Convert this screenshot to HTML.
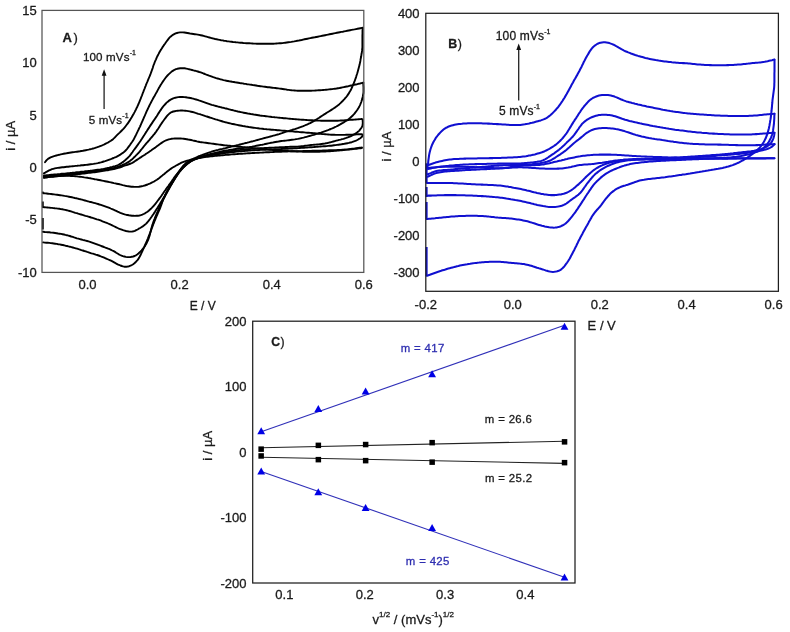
<!DOCTYPE html><html><head><meta charset="utf-8"><title>Cyclic voltammetry figure</title>
<style>html,body{margin:0;padding:0;background:#fff;width:790px;height:632px;overflow:hidden}svg{display:block;will-change:transform}text{font-family:"Liberation Sans", sans-serif;fill:#1a1a1a;stroke:#1a1a1a;stroke-width:0.3px;stroke-linejoin:round}</style></head><body>
<svg width="790" height="632" viewBox="0 0 790 632">
<rect width="790" height="632" fill="#fff"/>
<path d="M45.0 162.2 L45.9 161.0 L46.9 159.9 L48.0 158.9 L49.3 158.1 L50.6 157.4 L52.0 156.9 L53.4 156.4 L54.9 155.9 L56.3 155.5 L57.7 155.1 L59.2 154.8 L60.7 154.4 L62.1 154.1 L63.6 153.8 L65.1 153.5 L66.5 153.3 L68.0 153.0 L69.5 152.7 L71.0 152.5 L72.5 152.3 L74.0 152.1 L75.4 151.9 L76.9 151.7 L78.4 151.5 L79.9 151.3 L81.4 151.0 L82.9 150.8 L84.3 150.5 L85.8 150.2 L87.3 149.9 L88.7 149.6 L90.2 149.2 L91.7 148.9 L93.1 148.5 L94.5 148.1 L96.0 147.6 L97.4 147.2 L98.8 146.7 L100.2 146.1 L101.6 145.6 L103.0 145.0 L104.4 144.4 L105.7 143.7 L107.0 143.0 L108.4 142.3 L109.6 141.5 L110.9 140.7 L112.1 139.9 L113.3 138.9 L114.4 137.9 L115.4 136.8 L116.5 135.7 L117.5 134.7 L118.6 133.6 L119.7 132.6 L120.8 131.5 L121.8 130.5 L122.9 129.4 L123.9 128.3 L124.9 127.2 L125.8 126.0 L126.7 124.8 L127.6 123.6 L128.5 122.4 L129.3 121.1 L130.1 119.9 L130.9 118.6 L131.7 117.3 L132.4 116.0 L133.1 114.7 L133.9 113.4 L134.6 112.1 L135.3 110.7 L136.0 109.4 L136.6 108.0 L137.3 106.7 L137.9 105.3 L138.5 104.0 L139.1 102.6 L139.7 101.2 L140.2 99.8 L140.8 98.4 L141.3 97.0 L141.9 95.6 L142.4 94.2 L142.9 92.8 L143.5 91.4 L144.0 90.0 L144.6 88.6 L145.1 87.2 L145.7 85.8 L146.2 84.4 L146.8 83.0 L147.4 81.6 L147.9 80.3 L148.5 78.9 L149.1 77.5 L149.7 76.1 L150.3 74.7 L150.8 73.3 L151.3 71.9 L151.8 70.5 L152.3 69.1 L152.8 67.7 L153.2 66.2 L153.7 64.8 L154.3 63.4 L154.8 62.0 L155.4 60.6 L156.0 59.3 L156.6 57.9 L157.2 56.5 L157.9 55.2 L158.6 53.9 L159.3 52.5 L160.0 51.2 L160.8 49.9 L161.6 48.7 L162.4 47.4 L163.2 46.2 L164.1 44.9 L165.0 43.7 L165.8 42.5 L166.7 41.3 L167.6 40.1 L168.5 38.9 L169.5 37.7 L170.5 36.7 L171.7 35.7 L172.9 34.8 L174.2 34.1 L175.6 33.4 L177.0 33.0 L178.4 32.6 L179.9 32.4 L181.4 32.4 L182.9 32.4 L184.4 32.5 L185.9 32.7 L187.4 33.0 L188.9 33.3 L190.3 33.6 L191.8 33.8 L193.3 34.0 L194.8 34.2 L196.3 34.4 L197.8 34.6 L199.2 34.9 L200.7 35.2 L202.2 35.5 L203.6 35.9 L205.1 36.3 L206.5 36.7 L207.9 37.1 L209.4 37.5 L210.8 37.9 L212.3 38.3 L213.7 38.6 L215.2 39.0 L216.7 39.3 L218.1 39.6 L219.6 39.9 L221.1 40.2 L222.6 40.4 L224.0 40.7 L225.5 40.9 L227.0 41.2 L228.5 41.4 L230.0 41.6 L231.5 41.8 L233.0 42.0 L234.4 42.1 L235.9 42.3 L237.4 42.4 L238.9 42.6 L240.4 42.7 L241.9 42.8 L243.4 43.0 L244.9 43.1 L246.4 43.2 L247.9 43.2 L249.4 43.3 L250.9 43.4 L252.4 43.5 L253.9 43.6 L255.4 43.6 L256.9 43.7 L258.4 43.7 L259.9 43.8 L261.4 43.8 L262.9 43.8 L264.4 43.8 L265.9 43.8 L267.4 43.8 L268.9 43.8 L270.4 43.7 L271.9 43.7 L273.4 43.7 L274.9 43.6 L276.4 43.5 L277.9 43.4 L279.4 43.3 L280.9 43.2 L282.4 43.1 L283.9 42.9 L285.3 42.7 L286.8 42.5 L288.3 42.3 L289.8 42.1 L291.3 41.9 L292.8 41.6 L294.2 41.4 L295.7 41.1 L297.2 40.8 L298.7 40.6 L300.1 40.3 L301.6 40.0 L303.1 39.6 L304.5 39.3 L306.0 39.0 L307.5 38.7 L308.9 38.4 L310.4 38.1 L311.9 37.8 L313.4 37.5 L314.8 37.3 L316.3 37.0 L317.8 36.7 L319.2 36.4 L320.7 36.1 L322.2 35.8 L323.7 35.5 L325.1 35.2 L326.6 34.9 L328.1 34.6 L329.5 34.3 L331.0 34.0 L332.5 33.7 L333.9 33.4 L335.4 33.1 L336.9 32.8 L338.4 32.5 L339.8 32.2 L341.3 31.9 L342.8 31.7 L344.2 31.4 L345.7 31.1 L347.2 30.8 L348.7 30.5 L350.1 30.2 L351.6 29.9 L353.1 29.6 L354.5 29.4 L356.0 29.1 L357.5 28.8 L359.0 28.5 L360.4 28.2 L361.9 27.9 L362.5 27.8" fill="none" stroke="#000" stroke-width="1.9" stroke-linejoin="round" stroke-linecap="round"/>
<path d="M362.6 27.9 L362.6 29.4 L362.5 30.9 L362.5 32.4 L362.5 33.9 L362.4 35.4 L362.4 36.9 L362.4 38.4 L362.4 39.9 L362.4 41.4 L362.4 42.9 L362.4 44.4 L362.4 45.9 L362.4 47.4 L362.2 48.9 L362.1 50.4 L361.9 51.8 L361.7 53.3 L361.4 54.8 L361.2 56.3 L360.9 57.8 L360.6 59.2 L360.4 60.7 L360.1 62.2 L359.8 63.6 L359.5 65.1 L359.1 66.6 L358.7 68.0 L358.3 69.5 L357.9 70.9 L357.5 72.4 L357.1 73.8 L356.6 75.2 L356.2 76.6 L355.7 78.1 L355.2 79.5 L354.7 80.9 L354.1 82.3 L353.6 83.7 L353.0 85.1 L352.4 86.5 L351.8 87.8 L351.2 89.2 L350.5 90.5 L349.7 91.8 L349.0 93.1 L348.1 94.4 L347.3 95.6 L346.4 96.8 L345.4 97.9 L344.4 99.1 L343.4 100.2 L342.4 101.3 L341.3 102.3 L340.2 103.4 L339.1 104.4 L338.0 105.3 L336.8 106.2 L335.6 107.1 L334.3 108.0 L333.1 108.8 L331.8 109.6 L330.6 110.4 L329.3 111.2 L328.0 112.0 L326.7 112.8 L325.5 113.6 L324.2 114.4 L322.9 115.2 L321.7 116.0 L320.4 116.9 L319.2 117.7 L317.9 118.5 L316.7 119.3 L315.4 120.1 L314.1 120.9 L312.8 121.7 L311.5 122.4 L310.2 123.1 L308.8 123.7 L307.5 124.3 L306.1 124.9 L304.7 125.5 L303.3 126.1 L301.9 126.6 L300.5 127.1 L299.1 127.6 L297.7 128.2 L296.3 128.6 L294.8 129.1 L293.4 129.5 L292.0 130.0 L290.5 130.4 L289.1 130.8 L287.7 131.3 L286.2 131.7 L284.8 132.2 L283.4 132.7 L282.0 133.2 L280.5 133.6 L279.1 134.1 L277.7 134.5 L276.2 134.9 L274.8 135.3 L273.3 135.7 L271.9 136.1 L270.4 136.5 L269.0 136.9 L267.5 137.3 L266.1 137.6 L264.6 138.0 L263.2 138.4 L261.7 138.8 L260.3 139.2 L258.8 139.6 L257.4 140.0 L255.9 140.4 L254.5 140.8 L253.0 141.2 L251.6 141.5 L250.1 141.9 L248.7 142.3 L247.2 142.7 L245.8 143.0 L244.3 143.4 L242.9 143.8 L241.4 144.1 L240.0 144.5 L238.5 144.9 L237.1 145.2 L235.6 145.6 L234.2 146.0 L232.7 146.3 L231.2 146.7 L229.8 147.1 L228.3 147.4 L226.9 147.8 L225.4 148.2 L224.0 148.5 L222.5 148.9 L221.0 149.2 L219.6 149.5 L218.1 149.9 L216.7 150.2 L215.2 150.6 L213.8 151.0 L212.3 151.4 L210.9 151.9 L209.5 152.3 L208.0 152.8 L206.6 153.3 L205.2 153.8 L203.8 154.3 L202.4 154.9 L201.0 155.4 L199.6 156.0 L198.2 156.5 L196.9 157.2 L195.5 157.8 L194.1 158.4 L192.8 159.1 L191.5 159.8 L190.1 160.5 L188.8 161.2 L187.5 162.0 L186.3 162.8 L185.2 163.8 L184.1 164.9 L183.1 166.0 L182.2 167.2 L181.3 168.3 L180.4 169.5 L179.5 170.8 L178.6 172.0 L177.8 173.3 L177.0 174.5 L176.2 175.8 L175.5 177.1 L174.7 178.4 L173.9 179.6 L173.1 180.9 L172.4 182.2 L171.6 183.5 L170.9 184.8 L170.1 186.1 L169.4 187.4 L168.6 188.7 L167.9 190.0 L167.1 191.3 L166.4 192.6 L165.7 194.0 L165.0 195.3 L164.4 196.6 L163.8 198.0 L163.2 199.4 L162.7 200.8 L162.2 202.3 L161.7 203.7 L161.2 205.1 L160.7 206.5 L160.2 207.9 L159.6 209.3 L159.0 210.7 L158.4 212.0 L157.8 213.4 L157.2 214.8 L156.6 216.2 L156.0 217.5 L155.5 218.9 L154.9 220.3 L154.3 221.7 L153.8 223.1 L153.2 224.5 L152.7 225.9 L152.2 227.3 L151.6 228.7 L151.1 230.1 L150.6 231.5 L150.1 232.9 L149.5 234.3 L149.0 235.7 L148.4 237.1 L147.9 238.5 L147.3 239.9 L146.7 241.3 L146.1 242.7 L145.5 244.0 L144.9 245.4 L144.3 246.8 L143.7 248.1 L143.1 249.5 L142.5 250.9 L141.9 252.2 L141.2 253.6 L140.6 255.0 L139.9 256.3 L139.2 257.6 L138.4 258.9 L137.5 260.1 L136.5 261.2 L135.5 262.3 L134.4 263.3 L133.2 264.2 L131.9 265.0 L130.6 265.7 L129.2 266.2 L127.7 266.5 L126.2 266.7 L124.7 266.7 L123.2 266.4 L121.8 266.0 L120.4 265.5 L119.0 264.9 L117.6 264.3 L116.3 263.6 L115.0 262.8 L113.7 262.1 L112.4 261.4 L111.0 260.7 L109.7 260.1 L108.3 259.5 L106.9 258.9 L105.6 258.3 L104.2 257.7 L102.8 257.1 L101.4 256.6 L100.0 256.0 L98.6 255.5 L97.2 255.0 L95.7 254.6 L94.3 254.1 L92.9 253.7 L91.4 253.3 L90.0 252.8 L88.6 252.3 L87.2 251.9 L85.7 251.4 L84.3 251.0 L82.9 250.5 L81.4 250.1 L80.0 249.6 L78.6 249.2 L77.1 248.7 L75.7 248.3 L74.2 247.9 L72.8 247.5 L71.4 247.1 L69.9 246.7 L68.5 246.4 L67.0 246.0 L65.5 245.7 L64.1 245.3 L62.6 245.0 L61.1 244.7 L59.7 244.4 L58.2 244.2 L56.7 243.9 L55.2 243.7 L53.7 243.5 L52.3 243.3 L50.8 243.1 L49.3 242.9 L47.8 242.8 L46.3 242.7 L44.8 242.6 L43.3 242.4 L43.0 242.4" fill="none" stroke="#000" stroke-width="1.9" stroke-linejoin="round" stroke-linecap="round"/>
<path d="M43.9 173.3 L45.2 172.6 L46.5 171.8 L47.8 171.1 L49.1 170.4 L50.5 169.8 L51.9 169.2 L53.3 168.8 L54.8 168.4 L56.2 168.1 L57.7 167.9 L59.2 167.7 L60.7 167.5 L62.2 167.3 L63.7 167.2 L65.2 167.0 L66.7 166.8 L68.2 166.7 L69.6 166.5 L71.1 166.4 L72.6 166.2 L74.1 166.1 L75.6 165.9 L77.1 165.8 L78.6 165.6 L80.1 165.5 L81.6 165.3 L83.1 165.2 L84.6 165.0 L86.1 164.9 L87.6 164.7 L89.0 164.5 L90.5 164.3 L92.0 164.1 L93.5 163.9 L95.0 163.6 L96.5 163.4 L97.9 163.1 L99.4 162.7 L100.8 162.4 L102.3 162.0 L103.7 161.5 L105.1 161.1 L106.6 160.6 L108.0 160.1 L109.4 159.6 L110.8 159.1 L112.2 158.5 L113.6 158.0 L115.0 157.4 L116.4 156.8 L117.7 156.1 L119.0 155.4 L120.3 154.6 L121.5 153.8 L122.8 152.9 L124.0 152.0 L125.1 151.0 L126.1 150.0 L127.1 148.8 L128.0 147.6 L128.9 146.4 L129.8 145.2 L130.6 144.0 L131.5 142.7 L132.4 141.5 L133.2 140.2 L133.9 139.0 L134.6 137.6 L135.3 136.3 L136.0 134.9 L136.6 133.6 L137.3 132.2 L137.9 130.9 L138.6 129.5 L139.2 128.2 L139.9 126.8 L140.5 125.5 L141.1 124.1 L141.7 122.7 L142.3 121.3 L142.9 120.0 L143.5 118.6 L144.1 117.2 L144.7 115.9 L145.3 114.5 L145.9 113.1 L146.5 111.7 L147.1 110.4 L147.8 109.0 L148.4 107.6 L149.1 106.3 L149.7 104.9 L150.4 103.6 L151.1 102.3 L151.8 100.9 L152.5 99.6 L153.2 98.3 L153.9 97.0 L154.7 95.7 L155.4 94.4 L156.1 93.1 L156.9 91.7 L157.6 90.4 L158.3 89.1 L159.0 87.8 L159.8 86.5 L160.5 85.2 L161.3 84.0 L162.1 82.7 L163.0 81.4 L163.8 80.2 L164.7 79.0 L165.6 77.8 L166.5 76.6 L167.5 75.5 L168.6 74.4 L169.7 73.4 L170.8 72.4 L171.9 71.4 L173.2 70.6 L174.5 69.8 L175.9 69.2 L177.3 68.8 L178.7 68.5 L180.2 68.3 L181.7 68.2 L183.2 68.2 L184.7 68.3 L186.2 68.6 L187.7 68.9 L189.1 69.3 L190.6 69.6 L192.0 70.0 L193.5 70.4 L194.9 70.7 L196.4 71.1 L197.8 71.5 L199.3 72.0 L200.7 72.4 L202.1 72.9 L203.5 73.5 L204.9 74.0 L206.3 74.6 L207.7 75.1 L209.1 75.7 L210.5 76.2 L211.9 76.7 L213.3 77.2 L214.7 77.6 L216.2 78.1 L217.6 78.5 L219.1 78.9 L220.5 79.3 L222.0 79.7 L223.4 80.1 L224.9 80.4 L226.3 80.7 L227.8 81.0 L229.3 81.3 L230.8 81.5 L232.2 81.8 L233.7 82.0 L235.2 82.3 L236.7 82.5 L238.2 82.7 L239.7 83.0 L241.1 83.2 L242.6 83.4 L244.1 83.7 L245.6 83.9 L247.1 84.2 L248.5 84.4 L250.0 84.6 L251.5 84.8 L253.0 85.1 L254.5 85.3 L256.0 85.5 L257.4 85.8 L258.9 86.0 L260.4 86.2 L261.9 86.4 L263.4 86.6 L264.9 86.8 L266.4 87.0 L267.8 87.2 L269.3 87.3 L270.8 87.5 L272.3 87.7 L273.8 87.9 L275.3 88.0 L276.8 88.2 L278.3 88.4 L279.8 88.6 L281.2 88.8 L282.7 89.0 L284.2 89.2 L285.7 89.4 L287.2 89.7 L288.7 89.9 L290.1 90.1 L291.6 90.3 L293.1 90.4 L294.6 90.5 L296.1 90.6 L297.6 90.7 L299.1 90.7 L300.6 90.8 L302.1 90.8 L303.6 90.8 L305.1 90.8 L306.6 90.8 L308.1 90.7 L309.6 90.7 L311.1 90.7 L312.6 90.6 L314.1 90.6 L315.6 90.5 L317.1 90.4 L318.6 90.3 L320.1 90.2 L321.6 90.1 L323.1 90.0 L324.6 89.9 L326.1 89.7 L327.6 89.6 L329.1 89.4 L330.6 89.2 L332.1 89.1 L333.5 88.9 L335.0 88.7 L336.5 88.5 L338.0 88.2 L339.5 88.0 L340.9 87.7 L342.4 87.4 L343.9 87.1 L345.4 86.8 L346.8 86.5 L348.3 86.2 L349.7 85.8 L351.2 85.5 L352.7 85.2 L354.1 84.8 L355.6 84.5 L357.1 84.2 L358.5 83.8 L360.0 83.5 L361.4 83.1 L362.9 82.8 L363.3 82.7" fill="none" stroke="#000" stroke-width="1.9" stroke-linejoin="round" stroke-linecap="round"/>
<path d="M363.3 82.8 L363.3 84.3 L363.4 85.8 L363.5 87.3 L363.5 88.8 L363.5 90.3 L363.5 91.8 L363.4 93.3 L363.1 94.7 L362.9 96.2 L362.5 97.7 L362.2 99.1 L361.7 100.6 L361.3 102.0 L360.7 103.4 L360.1 104.8 L359.5 106.1 L358.8 107.5 L358.0 108.7 L357.2 110.0 L356.3 111.2 L355.4 112.4 L354.5 113.6 L353.5 114.7 L352.5 115.8 L351.4 116.8 L350.3 117.8 L349.1 118.8 L347.9 119.7 L346.7 120.5 L345.4 121.3 L344.1 122.1 L342.8 122.9 L341.5 123.6 L340.2 124.4 L338.9 125.1 L337.6 125.8 L336.3 126.5 L334.9 127.1 L333.5 127.8 L332.2 128.4 L330.8 129.0 L329.4 129.5 L328.0 130.1 L326.6 130.6 L325.2 131.1 L323.8 131.6 L322.4 132.1 L320.9 132.6 L319.5 133.0 L318.1 133.5 L316.6 133.9 L315.2 134.3 L313.8 134.8 L312.3 135.2 L310.9 135.6 L309.4 136.0 L308.0 136.4 L306.6 136.8 L305.1 137.2 L303.6 137.6 L302.2 137.9 L300.7 138.3 L299.3 138.6 L297.8 138.9 L296.3 139.1 L294.8 139.4 L293.4 139.6 L291.9 139.8 L290.4 140.0 L288.9 140.2 L287.4 140.4 L285.9 140.6 L284.4 140.7 L282.9 140.9 L281.4 141.0 L280.0 141.2 L278.5 141.5 L277.0 141.7 L275.5 142.0 L274.0 142.3 L272.6 142.6 L271.1 142.8 L269.6 143.1 L268.2 143.4 L266.7 143.7 L265.2 144.0 L263.8 144.4 L262.3 144.7 L260.8 144.9 L259.3 145.2 L257.9 145.5 L256.4 145.8 L254.9 146.1 L253.5 146.4 L252.0 146.7 L250.5 146.9 L249.0 147.2 L247.5 147.4 L246.1 147.6 L244.6 147.8 L243.1 148.0 L241.6 148.2 L240.1 148.4 L238.6 148.6 L237.1 148.8 L235.6 149.0 L234.2 149.2 L232.7 149.5 L231.2 149.7 L229.7 149.9 L228.2 150.2 L226.8 150.4 L225.3 150.7 L223.8 151.0 L222.3 151.3 L220.9 151.6 L219.4 151.9 L217.9 152.3 L216.5 152.6 L215.0 152.9 L213.6 153.3 L212.1 153.6 L210.7 154.0 L209.2 154.4 L207.7 154.8 L206.3 155.1 L204.9 155.5 L203.4 156.0 L202.0 156.4 L200.5 156.8 L199.1 157.3 L197.7 157.8 L196.3 158.4 L195.0 159.0 L193.6 159.7 L192.3 160.4 L191.0 161.2 L189.8 162.0 L188.5 162.9 L187.3 163.8 L186.2 164.7 L185.1 165.8 L184.0 166.8 L183.0 167.9 L182.0 169.0 L181.0 170.2 L180.1 171.3 L179.2 172.5 L178.3 173.7 L177.4 174.9 L176.6 176.2 L175.7 177.4 L174.9 178.7 L174.1 180.0 L173.4 181.3 L172.6 182.6 L171.8 183.9 L171.1 185.1 L170.3 186.4 L169.6 187.8 L168.9 189.1 L168.1 190.4 L167.4 191.7 L166.7 193.0 L166.0 194.3 L165.3 195.6 L164.6 197.0 L163.9 198.3 L163.2 199.6 L162.5 201.0 L161.9 202.3 L161.2 203.7 L160.6 205.0 L159.9 206.4 L159.3 207.7 L158.7 209.1 L158.1 210.5 L157.5 211.9 L156.9 213.2 L156.3 214.6 L155.7 216.0 L155.1 217.4 L154.6 218.8 L154.0 220.2 L153.5 221.6 L153.0 223.0 L152.6 224.4 L152.1 225.9 L151.7 227.3 L151.3 228.8 L151.0 230.2 L150.6 231.7 L150.2 233.1 L149.9 234.6 L149.5 236.0 L149.0 237.4 L148.5 238.9 L148.0 240.3 L147.3 241.6 L146.7 243.0 L146.0 244.3 L145.2 245.6 L144.4 246.8 L143.5 248.0 L142.6 249.2 L141.6 250.4 L140.6 251.5 L139.5 252.5 L138.4 253.5 L137.2 254.5 L136.0 255.3 L134.6 256.0 L133.2 256.5 L131.8 256.8 L130.3 257.1 L128.8 257.1 L127.3 257.1 L125.8 256.9 L124.3 256.5 L122.9 256.1 L121.5 255.6 L120.1 255.0 L118.8 254.3 L117.5 253.5 L116.2 252.7 L115.0 251.9 L113.7 251.2 L112.3 250.5 L111.0 249.8 L109.6 249.2 L108.2 248.7 L106.8 248.1 L105.4 247.6 L104.0 247.0 L102.6 246.5 L101.2 246.0 L99.8 245.4 L98.4 244.9 L97.0 244.3 L95.6 243.8 L94.2 243.3 L92.8 242.8 L91.4 242.3 L90.0 241.8 L88.5 241.4 L87.1 241.0 L85.6 240.6 L84.2 240.2 L82.7 239.9 L81.3 239.5 L79.8 239.1 L78.4 238.7 L76.9 238.3 L75.5 237.8 L74.1 237.4 L72.7 236.9 L71.2 236.5 L69.8 236.0 L68.3 235.6 L66.9 235.2 L65.4 234.9 L64.0 234.5 L62.5 234.2 L61.0 233.9 L59.6 233.7 L58.1 233.5 L56.6 233.2 L55.1 233.0 L53.6 232.8 L52.1 232.6 L50.6 232.5 L49.2 232.3 L47.7 232.2 L46.2 232.1 L44.7 232.0 L43.2 231.8 L42.8 231.8" fill="none" stroke="#000" stroke-width="1.9" stroke-linejoin="round" stroke-linecap="round"/>
<path d="M43.9 175.5 L45.4 175.4 L46.9 175.2 L48.3 175.1 L49.8 174.9 L51.3 174.8 L52.8 174.7 L54.3 174.5 L55.8 174.4 L57.3 174.3 L58.8 174.1 L60.3 174.0 L61.8 173.8 L63.3 173.7 L64.8 173.6 L66.3 173.4 L67.8 173.2 L69.3 173.1 L70.7 172.9 L72.2 172.8 L73.7 172.6 L75.2 172.5 L76.7 172.3 L78.2 172.1 L79.7 172.0 L81.2 171.8 L82.7 171.6 L84.2 171.5 L85.7 171.3 L87.1 171.1 L88.6 170.9 L90.1 170.8 L91.6 170.6 L93.1 170.4 L94.6 170.2 L96.1 170.0 L97.6 169.8 L99.0 169.6 L100.5 169.4 L102.0 169.1 L103.5 168.9 L105.0 168.6 L106.4 168.3 L107.9 167.9 L109.3 167.6 L110.8 167.2 L112.3 166.9 L113.7 166.5 L115.2 166.1 L116.6 165.6 L118.0 165.0 L119.3 164.4 L120.6 163.6 L121.8 162.8 L123.1 161.9 L124.2 161.0 L125.4 160.0 L126.5 159.0 L127.6 158.0 L128.7 156.9 L129.7 155.8 L130.6 154.7 L131.5 153.4 L132.4 152.2 L133.2 151.0 L134.1 149.8 L135.0 148.6 L135.9 147.4 L136.8 146.1 L137.7 144.9 L138.5 143.7 L139.4 142.5 L140.3 141.3 L141.1 140.0 L141.9 138.8 L142.7 137.5 L143.5 136.2 L144.3 135.0 L145.1 133.7 L145.9 132.4 L146.7 131.2 L147.5 129.9 L148.4 128.6 L149.2 127.4 L150.0 126.1 L150.8 124.9 L151.7 123.6 L152.5 122.4 L153.3 121.1 L154.2 119.9 L155.0 118.7 L155.9 117.4 L156.7 116.2 L157.5 114.9 L158.3 113.6 L159.1 112.4 L159.9 111.1 L160.8 109.9 L161.6 108.6 L162.5 107.4 L163.4 106.2 L164.4 105.1 L165.4 104.0 L166.4 102.9 L167.5 101.9 L168.7 100.9 L169.9 100.1 L171.2 99.3 L172.6 98.6 L174.0 98.1 L175.4 97.7 L176.9 97.4 L178.3 97.1 L179.8 97.0 L181.3 97.0 L182.8 97.0 L184.3 97.1 L185.8 97.2 L187.3 97.5 L188.8 97.7 L190.3 98.0 L191.7 98.3 L193.2 98.7 L194.6 99.1 L196.1 99.5 L197.5 99.9 L198.9 100.4 L200.4 100.8 L201.8 101.3 L203.2 101.8 L204.6 102.3 L206.0 102.8 L207.4 103.3 L208.9 103.8 L210.3 104.3 L211.7 104.8 L213.1 105.2 L214.6 105.6 L216.0 106.0 L217.5 106.4 L218.9 106.8 L220.4 107.1 L221.8 107.5 L223.3 107.8 L224.8 108.2 L226.2 108.5 L227.7 108.9 L229.1 109.3 L230.6 109.7 L232.0 110.0 L233.5 110.4 L234.9 110.8 L236.4 111.1 L237.9 111.5 L239.3 111.8 L240.8 112.1 L242.3 112.4 L243.7 112.7 L245.2 113.0 L246.7 113.3 L248.1 113.6 L249.6 113.8 L251.1 114.1 L252.6 114.3 L254.1 114.6 L255.5 114.8 L257.0 115.0 L258.5 115.2 L260.0 115.5 L261.5 115.7 L263.0 115.9 L264.5 116.0 L265.9 116.2 L267.4 116.4 L268.9 116.6 L270.4 116.8 L271.9 117.0 L273.4 117.1 L274.9 117.3 L276.4 117.4 L277.9 117.6 L279.4 117.7 L280.8 117.9 L282.3 118.0 L283.8 118.2 L285.3 118.3 L286.8 118.4 L288.3 118.6 L289.8 118.7 L291.3 118.9 L292.8 119.0 L294.3 119.1 L295.8 119.2 L297.3 119.4 L298.8 119.5 L300.3 119.6 L301.8 119.7 L303.3 119.8 L304.8 119.9 L306.3 120.0 L307.8 120.1 L309.3 120.2 L310.8 120.3 L312.2 120.3 L313.7 120.4 L315.2 120.5 L316.7 120.5 L318.2 120.6 L319.7 120.6 L321.2 120.7 L322.7 120.7 L324.2 120.7 L325.7 120.8 L327.2 120.8 L328.7 120.8 L330.2 120.8 L331.7 120.8 L333.2 120.8 L334.7 120.7 L336.2 120.7 L337.7 120.7 L339.2 120.6 L340.7 120.5 L342.2 120.5 L343.7 120.4 L345.2 120.3 L346.7 120.2 L348.2 120.1 L349.7 119.9 L351.2 119.8 L352.7 119.7 L354.2 119.6 L355.7 119.5 L357.2 119.4 L358.7 119.2 L360.2 119.1 L361.7 119.0 L361.9 119.0" fill="none" stroke="#000" stroke-width="1.9" stroke-linejoin="round" stroke-linecap="round"/>
<path d="M362.6 119.6 L362.7 121.1 L362.8 122.6 L362.7 124.1 L362.4 125.5 L361.9 126.9 L361.1 128.2 L360.2 129.4 L359.3 130.6 L358.2 131.6 L357.0 132.6 L355.8 133.4 L354.5 134.2 L353.2 135.0 L351.9 135.6 L350.5 136.3 L349.1 136.8 L347.7 137.4 L346.3 137.9 L344.9 138.3 L343.5 138.8 L342.0 139.2 L340.6 139.6 L339.1 139.9 L337.7 140.3 L336.2 140.7 L334.8 141.1 L333.3 141.5 L331.9 141.9 L330.4 142.3 L329.0 142.6 L327.5 143.0 L326.0 143.3 L324.6 143.6 L323.1 143.8 L321.6 144.0 L320.1 144.2 L318.6 144.4 L317.1 144.5 L315.6 144.6 L314.1 144.7 L312.6 144.9 L311.1 145.0 L309.7 145.2 L308.2 145.4 L306.7 145.6 L305.2 145.8 L303.7 146.0 L302.2 146.1 L300.7 146.3 L299.2 146.4 L297.7 146.6 L296.2 146.6 L294.7 146.7 L293.2 146.8 L291.7 146.8 L290.2 146.8 L288.7 146.9 L287.2 147.0 L285.7 147.0 L284.2 147.1 L282.7 147.2 L281.2 147.2 L279.8 147.3 L278.3 147.4 L276.8 147.4 L275.3 147.5 L273.8 147.6 L272.3 147.6 L270.8 147.7 L269.3 147.8 L267.8 147.9 L266.3 148.0 L264.8 148.0 L263.3 148.1 L261.8 148.2 L260.3 148.3 L258.8 148.4 L257.3 148.5 L255.8 148.6 L254.3 148.7 L252.8 148.8 L251.3 148.9 L249.8 149.1 L248.3 149.2 L246.8 149.3 L245.3 149.5 L243.8 149.6 L242.3 149.8 L240.8 149.9 L239.4 150.1 L237.9 150.3 L236.4 150.4 L234.9 150.6 L233.4 150.8 L231.9 151.0 L230.4 151.2 L228.9 151.4 L227.5 151.7 L226.0 151.9 L224.5 152.1 L223.0 152.4 L221.5 152.7 L220.1 152.9 L218.6 153.2 L217.1 153.5 L215.7 153.8 L214.2 154.1 L212.7 154.4 L211.3 154.7 L209.8 155.0 L208.3 155.4 L206.9 155.7 L205.4 156.1 L203.9 156.4 L202.5 156.8 L201.1 157.2 L199.6 157.6 L198.2 158.1 L196.8 158.6 L195.4 159.1 L194.0 159.6 L192.6 160.2 L191.2 160.9 L189.9 161.6 L188.6 162.3 L187.3 163.1 L186.1 164.0 L184.9 164.9 L183.8 165.9 L182.8 167.0 L181.8 168.1 L180.8 169.3 L179.9 170.5 L179.1 171.8 L178.3 173.0 L177.5 174.3 L176.7 175.6 L175.9 176.8 L175.1 178.1 L174.3 179.4 L173.5 180.6 L172.7 181.9 L171.9 183.2 L171.1 184.4 L170.4 185.7 L169.6 187.0 L168.9 188.3 L168.2 189.7 L167.4 191.0 L166.7 192.3 L166.0 193.6 L165.3 194.9 L164.6 196.2 L163.8 197.5 L163.0 198.8 L162.2 200.1 L161.5 201.4 L160.7 202.6 L159.9 203.9 L159.1 205.2 L158.3 206.5 L157.5 207.8 L156.7 209.0 L155.9 210.3 L155.1 211.6 L154.3 212.8 L153.5 214.1 L152.6 215.3 L151.8 216.5 L150.9 217.7 L150.0 219.0 L149.1 220.2 L148.2 221.3 L147.2 222.5 L146.2 223.6 L145.1 224.6 L143.9 225.5 L142.7 226.4 L141.4 227.2 L140.1 228.0 L138.8 228.7 L137.6 229.5 L136.2 230.2 L134.9 230.9 L133.5 231.3 L132.0 231.6 L130.5 231.6 L129.0 231.5 L127.5 231.3 L126.0 231.0 L124.6 230.6 L123.1 230.2 L121.7 229.7 L120.3 229.2 L118.9 228.6 L117.6 228.0 L116.2 227.3 L114.9 226.7 L113.5 226.0 L112.2 225.3 L110.8 224.7 L109.5 224.1 L108.1 223.5 L106.7 222.9 L105.3 222.4 L103.9 221.8 L102.5 221.3 L101.1 220.7 L99.7 220.2 L98.3 219.7 L96.9 219.3 L95.4 218.8 L94.0 218.3 L92.6 217.9 L91.1 217.5 L89.7 217.0 L88.3 216.6 L86.8 216.2 L85.4 215.8 L83.9 215.3 L82.5 214.9 L81.1 214.5 L79.6 214.1 L78.2 213.7 L76.8 213.2 L75.3 212.8 L73.9 212.3 L72.5 211.9 L71.0 211.4 L69.6 211.0 L68.1 210.6 L66.7 210.2 L65.2 209.9 L63.8 209.6 L62.3 209.3 L60.8 209.1 L59.3 208.8 L57.8 208.6 L56.3 208.4 L54.9 208.3 L53.4 208.1 L51.9 207.9 L50.4 207.8 L48.9 207.6 L47.4 207.5 L45.9 207.4 L44.4 207.2 L42.9 207.1 L42.9 207.1" fill="none" stroke="#000" stroke-width="1.9" stroke-linejoin="round" stroke-linecap="round"/>
<path d="M43.9 176.5 L45.4 176.4 L46.9 176.2 L48.3 176.1 L49.8 175.9 L51.3 175.8 L52.8 175.7 L54.3 175.5 L55.8 175.4 L57.3 175.3 L58.8 175.1 L60.3 175.0 L61.8 174.8 L63.3 174.7 L64.8 174.6 L66.3 174.4 L67.8 174.2 L69.3 174.1 L70.7 173.9 L72.2 173.8 L73.7 173.6 L75.2 173.5 L76.7 173.3 L78.2 173.1 L79.7 173.0 L81.2 172.8 L82.7 172.6 L84.2 172.5 L85.7 172.3 L87.1 172.1 L88.6 171.9 L90.1 171.8 L91.6 171.6 L93.1 171.4 L94.6 171.2 L96.1 171.0 L97.6 170.8 L99.0 170.6 L100.5 170.3 L102.0 170.1 L103.5 169.9 L105.0 169.6 L106.4 169.4 L107.9 169.1 L109.4 168.8 L110.9 168.5 L112.3 168.2 L113.8 167.9 L115.3 167.5 L116.7 167.2 L118.1 166.7 L119.6 166.2 L120.9 165.7 L122.3 165.1 L123.7 164.4 L125.0 163.8 L126.4 163.1 L127.7 162.4 L129.0 161.6 L130.2 160.8 L131.4 159.8 L132.5 158.9 L133.6 157.8 L134.7 156.8 L135.8 155.7 L136.8 154.7 L137.8 153.6 L138.9 152.5 L139.9 151.3 L140.8 150.2 L141.8 149.0 L142.7 147.9 L143.6 146.7 L144.6 145.5 L145.5 144.4 L146.5 143.2 L147.5 142.1 L148.5 141.0 L149.5 139.8 L150.4 138.7 L151.4 137.5 L152.4 136.4 L153.3 135.2 L154.3 134.1 L155.2 132.9 L156.1 131.7 L156.9 130.4 L157.8 129.2 L158.6 128.0 L159.4 126.7 L160.2 125.4 L161.0 124.2 L161.9 122.9 L162.7 121.7 L163.6 120.5 L164.5 119.3 L165.4 118.1 L166.3 116.9 L167.3 115.7 L168.3 114.6 L169.4 113.6 L170.6 112.7 L171.9 112.0 L173.3 111.5 L174.8 111.2 L176.3 110.9 L177.7 110.7 L179.2 110.6 L180.7 110.5 L182.2 110.5 L183.7 110.6 L185.2 110.7 L186.7 110.9 L188.2 111.1 L189.7 111.4 L191.1 111.7 L192.6 112.0 L194.0 112.4 L195.5 112.9 L196.9 113.3 L198.3 113.8 L199.8 114.2 L201.2 114.7 L202.6 115.1 L204.1 115.6 L205.5 116.1 L206.9 116.5 L208.3 117.0 L209.8 117.5 L211.2 117.9 L212.6 118.4 L214.1 118.8 L215.5 119.3 L216.9 119.7 L218.3 120.2 L219.8 120.6 L221.2 121.0 L222.7 121.5 L224.1 121.9 L225.5 122.3 L227.0 122.6 L228.5 123.0 L229.9 123.3 L231.4 123.7 L232.8 124.0 L234.3 124.3 L235.8 124.6 L237.2 124.9 L238.7 125.2 L240.2 125.5 L241.7 125.8 L243.1 126.1 L244.6 126.3 L246.1 126.6 L247.6 126.8 L249.1 127.1 L250.5 127.3 L252.0 127.5 L253.5 127.7 L255.0 127.9 L256.5 128.1 L258.0 128.3 L259.5 128.5 L260.9 128.6 L262.4 128.8 L263.9 129.0 L265.4 129.1 L266.9 129.3 L268.4 129.4 L269.9 129.5 L271.4 129.7 L272.9 129.8 L274.4 129.9 L275.9 130.0 L277.4 130.2 L278.9 130.3 L280.4 130.4 L281.9 130.6 L283.4 130.7 L284.8 130.8 L286.3 130.9 L287.8 131.1 L289.3 131.2 L290.8 131.3 L292.3 131.4 L293.8 131.6 L295.3 131.7 L296.8 131.8 L298.3 131.9 L299.8 132.1 L301.3 132.2 L302.8 132.3 L304.3 132.4 L305.8 132.6 L307.3 132.7 L308.8 132.8 L310.3 132.9 L311.8 133.0 L313.3 133.2 L314.7 133.3 L316.2 133.4 L317.7 133.6 L319.2 133.7 L320.7 133.8 L322.2 134.0 L323.7 134.1 L325.2 134.2 L326.7 134.4 L328.2 134.5 L329.7 134.6 L331.2 134.7 L332.7 134.7 L334.2 134.8 L335.7 134.9 L337.2 134.9 L338.7 134.9 L340.2 134.9 L341.7 134.9 L343.2 134.9 L344.7 134.9 L346.2 134.8 L347.7 134.8 L349.2 134.7 L350.7 134.7 L352.2 134.6 L353.7 134.5 L355.2 134.5 L356.7 134.4 L358.2 134.3 L359.7 134.3 L361.2 134.2 L362.0 134.2" fill="none" stroke="#000" stroke-width="1.9" stroke-linejoin="round" stroke-linecap="round"/>
<path d="M362.6 135.1 L362.1 136.5 L361.1 137.6 L359.9 138.5 L358.6 139.2 L357.3 140.0 L356.0 140.6 L354.6 141.2 L353.2 141.7 L351.8 142.2 L350.3 142.5 L348.8 142.9 L347.4 143.2 L345.9 143.5 L344.4 143.8 L343.0 144.0 L341.5 144.3 L340.0 144.5 L338.5 144.7 L337.0 144.9 L335.5 145.1 L334.0 145.3 L332.6 145.5 L331.1 145.7 L329.6 145.8 L328.1 145.9 L326.6 146.1 L325.1 146.2 L323.6 146.3 L322.1 146.4 L320.6 146.5 L319.1 146.6 L317.6 146.7 L316.1 146.9 L314.6 147.0 L313.1 147.1 L311.6 147.2 L310.1 147.3 L308.6 147.4 L307.1 147.5 L305.6 147.6 L304.1 147.7 L302.6 147.8 L301.2 147.9 L299.7 148.0 L298.2 148.1 L296.7 148.2 L295.2 148.3 L293.7 148.4 L292.2 148.5 L290.7 148.5 L289.2 148.6 L287.7 148.7 L286.2 148.8 L284.7 148.9 L283.2 148.9 L281.7 149.0 L280.2 149.1 L278.7 149.2 L277.2 149.2 L275.7 149.3 L274.2 149.3 L272.7 149.4 L271.2 149.5 L269.7 149.5 L268.2 149.6 L266.7 149.6 L265.2 149.7 L263.7 149.8 L262.2 149.8 L260.7 149.9 L259.2 150.0 L257.7 150.1 L256.2 150.1 L254.7 150.2 L253.2 150.3 L251.7 150.4 L250.2 150.5 L248.7 150.6 L247.2 150.8 L245.7 150.9 L244.2 151.0 L242.7 151.1 L241.2 151.2 L239.8 151.4 L238.3 151.5 L236.8 151.6 L235.3 151.8 L233.8 152.0 L232.3 152.1 L230.8 152.3 L229.3 152.5 L227.8 152.7 L226.3 152.9 L224.9 153.1 L223.4 153.3 L221.9 153.5 L220.4 153.7 L218.9 154.0 L217.4 154.2 L216.0 154.4 L214.5 154.7 L213.0 154.9 L211.5 155.2 L210.0 155.5 L208.6 155.7 L207.1 156.0 L205.6 156.3 L204.2 156.7 L202.7 157.0 L201.3 157.4 L199.8 157.8 L198.4 158.2 L196.9 158.7 L195.5 159.2 L194.1 159.7 L192.8 160.3 L191.4 161.0 L190.2 161.8 L188.9 162.7 L187.8 163.6 L186.6 164.6 L185.5 165.6 L184.4 166.6 L183.3 167.6 L182.2 168.6 L181.1 169.7 L180.0 170.7 L179.0 171.8 L177.9 172.9 L177.0 174.0 L176.0 175.2 L175.1 176.4 L174.2 177.6 L173.4 178.8 L172.5 180.0 L171.7 181.3 L170.8 182.5 L169.9 183.7 L169.1 184.9 L168.2 186.2 L167.3 187.4 L166.4 188.6 L165.6 189.8 L164.7 191.0 L163.8 192.3 L163.0 193.5 L162.1 194.7 L161.3 196.0 L160.4 197.2 L159.5 198.4 L158.6 199.6 L157.7 200.8 L156.8 202.0 L155.9 203.2 L155.0 204.3 L154.0 205.5 L153.0 206.6 L152.0 207.7 L150.9 208.8 L149.8 209.8 L148.7 210.8 L147.5 211.7 L146.2 212.5 L145.0 213.3 L143.6 214.0 L142.3 214.6 L140.8 215.1 L139.4 215.5 L137.9 215.7 L136.4 215.8 L134.9 215.9 L133.4 215.8 L131.9 215.7 L130.4 215.5 L128.9 215.3 L127.5 215.0 L126.0 214.7 L124.6 214.3 L123.1 213.8 L121.7 213.3 L120.3 212.8 L118.9 212.2 L117.6 211.6 L116.2 210.9 L114.9 210.3 L113.5 209.7 L112.1 209.1 L110.7 208.5 L109.4 207.9 L108.0 207.4 L106.5 206.9 L105.1 206.4 L103.7 205.9 L102.3 205.4 L100.9 204.9 L99.4 204.5 L98.0 204.0 L96.6 203.6 L95.1 203.2 L93.7 202.8 L92.2 202.4 L90.8 202.0 L89.3 201.7 L87.9 201.3 L86.4 200.9 L85.0 200.5 L83.5 200.1 L82.1 199.7 L80.6 199.3 L79.2 199.0 L77.7 198.6 L76.3 198.3 L74.8 198.0 L73.3 197.6 L71.9 197.3 L70.4 197.0 L68.9 196.7 L67.5 196.4 L66.0 196.1 L64.5 195.9 L63.0 195.6 L61.5 195.4 L60.1 195.2 L58.6 195.0 L57.1 194.8 L55.6 194.6 L54.1 194.4 L52.6 194.2 L51.1 194.0 L49.6 193.9 L48.1 193.7 L46.7 193.5 L45.2 193.4 L43.7 193.2 L43.3 193.2" fill="none" stroke="#000" stroke-width="1.9" stroke-linejoin="round" stroke-linecap="round"/>
<path d="M43.9 177.5 L45.4 177.4 L46.9 177.2 L48.3 177.1 L49.8 176.9 L51.3 176.8 L52.8 176.7 L54.3 176.5 L55.8 176.4 L57.3 176.3 L58.8 176.1 L60.3 176.0 L61.8 175.8 L63.3 175.7 L64.8 175.6 L66.3 175.4 L67.8 175.2 L69.3 175.1 L70.7 174.9 L72.2 174.8 L73.7 174.6 L75.2 174.5 L76.7 174.3 L78.2 174.1 L79.7 174.0 L81.2 173.8 L82.7 173.6 L84.2 173.5 L85.7 173.3 L87.1 173.1 L88.6 172.9 L90.1 172.8 L91.6 172.6 L93.1 172.4 L94.6 172.2 L96.1 172.0 L97.6 171.8 L99.0 171.6 L100.5 171.3 L102.0 171.1 L103.5 170.9 L105.0 170.6 L106.5 170.4 L107.9 170.2 L109.4 169.9 L110.9 169.6 L112.4 169.3 L113.8 169.0 L115.3 168.7 L116.7 168.3 L118.2 167.9 L119.6 167.5 L121.0 167.0 L122.4 166.5 L123.8 165.9 L125.3 165.4 L126.7 165.0 L128.1 164.5 L129.5 164.0 L130.9 163.5 L132.3 162.8 L133.6 162.1 L134.8 161.3 L136.1 160.4 L137.3 159.6 L138.6 158.8 L139.8 157.9 L141.1 157.1 L142.3 156.3 L143.6 155.5 L144.9 154.7 L146.1 153.8 L147.4 153.0 L148.6 152.2 L149.9 151.3 L151.1 150.5 L152.3 149.6 L153.5 148.7 L154.8 147.9 L156.0 147.0 L157.2 146.1 L158.4 145.2 L159.6 144.3 L160.8 143.4 L162.0 142.6 L163.3 141.8 L164.6 141.0 L166.0 140.4 L167.4 139.9 L168.8 139.4 L170.3 139.1 L171.7 138.8 L173.2 138.6 L174.7 138.5 L176.2 138.5 L177.7 138.5 L179.2 138.5 L180.7 138.5 L182.2 138.6 L183.7 138.8 L185.2 139.0 L186.7 139.2 L188.2 139.5 L189.6 139.7 L191.1 140.0 L192.6 140.4 L194.0 140.7 L195.5 141.0 L196.9 141.4 L198.4 141.7 L199.9 142.0 L201.4 142.2 L202.8 142.4 L204.3 142.6 L205.8 142.8 L207.3 143.0 L208.8 143.2 L210.3 143.4 L211.8 143.6 L213.3 143.8 L214.7 144.0 L216.2 144.2 L217.7 144.4 L219.2 144.6 L220.7 144.8 L222.2 145.0 L223.7 145.2 L225.2 145.4 L226.6 145.5 L228.1 145.7 L229.6 145.8 L231.1 146.0 L232.6 146.1 L234.1 146.2 L235.6 146.4 L237.1 146.5 L238.6 146.7 L240.1 146.8 L241.6 146.9 L243.1 147.1 L244.6 147.2 L246.1 147.4 L247.6 147.5 L249.0 147.7 L250.5 147.8 L252.0 147.9 L253.5 148.1 L255.0 148.2 L256.5 148.4 L258.0 148.5 L259.5 148.7 L261.0 148.8 L262.5 149.0 L264.0 149.1 L265.5 149.3 L267.0 149.4 L268.5 149.6 L269.9 149.7 L271.4 149.8 L272.9 150.0 L274.4 150.1 L275.9 150.2 L277.4 150.3 L278.9 150.4 L280.4 150.5 L281.9 150.6 L283.4 150.7 L284.9 150.8 L286.4 150.9 L287.9 151.0 L289.4 151.1 L290.9 151.2 L292.4 151.2 L293.9 151.3 L295.4 151.4 L296.9 151.5 L298.4 151.5 L299.9 151.6 L301.4 151.6 L302.9 151.7 L304.4 151.7 L305.9 151.7 L307.4 151.8 L308.9 151.8 L310.4 151.8 L311.9 151.8 L313.4 151.8 L314.9 151.8 L316.4 151.7 L317.9 151.7 L319.4 151.7 L320.9 151.6 L322.4 151.6 L323.9 151.5 L325.4 151.5 L326.9 151.4 L328.4 151.3 L329.9 151.2 L331.4 151.1 L332.9 151.0 L334.4 150.9 L335.9 150.8 L337.3 150.6 L338.8 150.5 L340.3 150.3 L341.8 150.2 L343.3 150.0 L344.8 149.8 L346.3 149.6 L347.8 149.4 L349.3 149.2 L350.8 149.0 L352.2 148.8 L353.7 148.6 L355.2 148.4 L356.7 148.2 L358.2 148.0 L359.7 147.8 L361.2 147.6 L361.9 147.5" fill="none" stroke="#000" stroke-width="1.9" stroke-linejoin="round" stroke-linecap="round"/>
<path d="M361.9 148.0 L360.4 148.2 L359.0 148.4 L357.5 148.5 L356.0 148.7 L354.5 148.9 L353.0 149.1 L351.5 149.2 L350.0 149.3 L348.5 149.5 L347.0 149.6 L345.5 149.6 L344.0 149.7 L342.5 149.8 L341.0 149.9 L339.5 149.9 L338.0 150.0 L336.5 150.1 L335.0 150.1 L333.5 150.2 L332.0 150.2 L330.5 150.3 L329.0 150.3 L327.5 150.4 L326.0 150.4 L324.5 150.5 L323.0 150.5 L321.5 150.6 L320.0 150.6 L318.5 150.7 L317.0 150.7 L315.5 150.7 L314.0 150.8 L312.5 150.8 L311.0 150.9 L309.5 150.9 L308.0 150.9 L306.5 151.0 L305.0 151.0 L303.5 151.0 L302.0 151.1 L300.5 151.1 L299.0 151.1 L297.5 151.2 L296.0 151.2 L294.5 151.2 L293.0 151.3 L291.5 151.3 L290.0 151.4 L288.5 151.4 L287.1 151.5 L285.6 151.5 L284.1 151.6 L282.6 151.6 L281.1 151.7 L279.6 151.7 L278.1 151.8 L276.6 151.9 L275.1 151.9 L273.6 152.0 L272.1 152.1 L270.6 152.1 L269.1 152.2 L267.6 152.3 L266.1 152.3 L264.6 152.4 L263.1 152.5 L261.6 152.6 L260.1 152.6 L258.6 152.7 L257.1 152.8 L255.6 152.9 L254.1 153.0 L252.6 153.0 L251.1 153.1 L249.6 153.2 L248.1 153.3 L246.6 153.4 L245.1 153.5 L243.6 153.6 L242.1 153.7 L240.6 153.8 L239.1 153.9 L237.6 154.0 L236.1 154.1 L234.6 154.2 L233.1 154.3 L231.6 154.4 L230.1 154.6 L228.6 154.7 L227.1 154.8 L225.7 154.9 L224.2 155.1 L222.7 155.2 L221.2 155.4 L219.7 155.5 L218.2 155.6 L216.7 155.8 L215.2 155.9 L213.7 156.1 L212.2 156.3 L210.7 156.4 L209.2 156.6 L207.7 156.8 L206.3 156.9 L204.8 157.1 L203.3 157.3 L201.8 157.5 L200.3 157.8 L198.8 158.0 L197.4 158.3 L195.9 158.6 L194.4 158.9 L193.0 159.2 L191.5 159.5 L190.0 159.9 L188.6 160.3 L187.1 160.7 L185.7 161.1 L184.3 161.6 L182.9 162.1 L181.5 162.7 L180.2 163.4 L178.8 164.1 L177.5 164.8 L176.2 165.5 L174.9 166.3 L173.6 167.0 L172.3 167.8 L171.1 168.6 L169.8 169.5 L168.6 170.4 L167.5 171.3 L166.3 172.3 L165.1 173.2 L164.0 174.2 L162.8 175.1 L161.7 176.1 L160.5 177.0 L159.3 178.0 L158.1 178.9 L156.9 179.7 L155.6 180.5 L154.4 181.3 L153.0 182.0 L151.7 182.7 L150.4 183.4 L149.0 183.9 L147.6 184.5 L146.2 185.0 L144.7 185.5 L143.3 185.9 L141.8 186.2 L140.4 186.5 L138.9 186.8 L137.4 186.9 L135.9 186.9 L134.4 186.9 L132.9 186.8 L131.4 186.7 L129.9 186.5 L128.4 186.3 L126.9 186.1 L125.5 185.8 L124.0 185.4 L122.6 185.1 L121.1 184.7 L119.7 184.3 L118.2 184.0 L116.7 183.7 L115.3 183.4 L113.8 183.1 L112.3 182.7 L110.9 182.4 L109.4 182.1 L107.9 181.8 L106.5 181.5 L105.0 181.2 L103.5 180.9 L102.0 180.6 L100.6 180.3 L99.1 180.0 L97.6 179.7 L96.2 179.4 L94.7 179.2 L93.2 178.9 L91.7 178.6 L90.3 178.3 L88.8 178.1 L87.3 177.8 L85.8 177.6 L84.3 177.4 L82.9 177.1 L81.4 176.9 L79.9 176.7 L78.4 176.6 L76.9 176.4 L75.4 176.3 L73.9 176.1 L72.4 176.0 L70.9 176.0 L69.4 175.9 L67.9 175.8 L66.4 175.8 L64.9 175.8 L63.4 175.8 L61.9 175.9 L60.4 175.9 L58.9 176.0 L57.4 176.1 L55.9 176.2 L54.4 176.3 L53.0 176.5 L51.5 176.6 L50.0 176.8 L48.5 177.0 L47.0 177.2 L45.5 177.5 L44.0 177.7 L43.9 177.7" fill="none" stroke="#000" stroke-width="1.9" stroke-linejoin="round" stroke-linecap="round"/>
<line x1="42.8" y1="191.6" x2="42.8" y2="193.5" stroke="#000" stroke-width="1.9"/>
<line x1="42.8" y1="201.5" x2="42.8" y2="207.0" stroke="#000" stroke-width="1.9"/>
<line x1="42.8" y1="218.0" x2="42.8" y2="229.5" stroke="#000" stroke-width="1.9"/>
<rect x="42.0" y="10.4" width="321.8" height="262.0" fill="none" stroke="#555" stroke-width="1.25"/>
<text x="36.7" y="14.6" font-size="13" text-anchor="end" font-weight="normal" >15</text>
<text x="36.7" y="67.0" font-size="13" text-anchor="end" font-weight="normal" >10</text>
<text x="36.7" y="119.5" font-size="13" text-anchor="end" font-weight="normal" >5</text>
<text x="36.7" y="171.9" font-size="13" text-anchor="end" font-weight="normal" >0</text>
<text x="36.7" y="224.4" font-size="13" text-anchor="end" font-weight="normal" >-5</text>
<text x="36.7" y="276.9" font-size="13" text-anchor="end" font-weight="normal" >-10</text>
<text x="87.5" y="289.0" font-size="13" text-anchor="middle" font-weight="normal" >0.0</text>
<text x="179.6" y="289.0" font-size="13" text-anchor="middle" font-weight="normal" >0.2</text>
<text x="271.7" y="289.0" font-size="13" text-anchor="middle" font-weight="normal" >0.4</text>
<text x="363.8" y="289.0" font-size="13" text-anchor="middle" font-weight="normal" >0.6</text>
<text x="202.8" y="309.7" font-size="12" text-anchor="middle" font-weight="normal" >E / V</text>
<text transform="translate(15.3 135.7) rotate(-90)" x="0" y="0" font-size="13" text-anchor="middle">i / &#181;A</text>
<text x="62.6" y="42.2" font-size="13" text-anchor="start" font-weight="bold" >A<tspan font-weight="normal" dx="1.5">)</tspan></text>
<text x="82.9" y="61.0" font-size="11.6" letter-spacing="0.15">100 mVs<tspan font-size="7" dy="-6" letter-spacing="0">-1</tspan></text>
<text x="88.7" y="123.7" font-size="11.6" letter-spacing="0.15">5 mVs<tspan font-size="7" dy="-6" letter-spacing="0">-1</tspan></text>
<line x1="104.1" y1="109.0" x2="104.1" y2="74.3" stroke="#222" stroke-width="1.3"/>
<path d="M104.1 69.3 L101.7 75.8 L106.5 75.8 Z" fill="#111"/>
<path d="M427.3 166.9 L427.7 165.5 L428.0 164.0 L428.2 162.5 L428.3 161.0 L428.5 159.5 L428.7 158.1 L428.9 156.6 L429.1 155.1 L429.4 153.6 L429.7 152.2 L430.1 150.7 L430.5 149.3 L431.0 147.8 L431.5 146.4 L432.0 145.0 L432.6 143.7 L433.3 142.3 L434.0 141.0 L434.8 139.7 L435.5 138.4 L436.4 137.2 L437.3 136.0 L438.2 134.8 L439.2 133.7 L440.2 132.6 L441.3 131.5 L442.4 130.5 L443.5 129.5 L444.7 128.6 L446.0 127.8 L447.4 127.2 L448.7 126.5 L450.1 126.0 L451.6 125.6 L453.0 125.2 L454.5 124.8 L455.9 124.5 L457.4 124.3 L458.9 124.1 L460.4 123.9 L461.9 123.8 L463.4 123.6 L464.9 123.5 L466.4 123.4 L467.9 123.3 L469.4 123.2 L470.9 123.2 L472.4 123.2 L473.9 123.2 L475.4 123.2 L476.9 123.2 L478.4 123.2 L479.9 123.3 L481.4 123.3 L482.9 123.4 L484.4 123.4 L485.9 123.5 L487.4 123.6 L488.9 123.6 L490.4 123.7 L491.8 123.8 L493.3 123.9 L494.8 124.0 L496.3 124.1 L497.8 124.1 L499.3 124.2 L500.8 124.3 L502.3 124.4 L503.8 124.5 L505.3 124.6 L506.8 124.7 L508.3 124.8 L509.8 124.9 L511.3 124.9 L512.8 125.0 L514.3 125.0 L515.8 125.0 L517.3 125.0 L518.8 125.0 L520.3 124.9 L521.8 124.7 L523.3 124.5 L524.8 124.3 L526.3 124.0 L527.7 123.8 L529.2 123.5 L530.7 123.1 L532.1 122.8 L533.6 122.4 L535.0 122.0 L536.5 121.6 L537.9 121.2 L539.4 120.8 L540.8 120.4 L542.2 119.9 L543.6 119.4 L545.0 118.8 L546.3 118.1 L547.6 117.3 L548.8 116.4 L550.0 115.5 L551.1 114.5 L552.2 113.5 L553.3 112.4 L554.3 111.4 L555.4 110.3 L556.3 109.1 L557.3 108.0 L558.3 106.8 L559.2 105.6 L560.1 104.4 L560.9 103.2 L561.8 101.9 L562.6 100.7 L563.4 99.4 L564.2 98.2 L565.0 96.9 L565.7 95.6 L566.5 94.3 L567.2 93.0 L567.9 91.7 L568.7 90.4 L569.4 89.0 L570.1 87.7 L570.8 86.4 L571.5 85.1 L572.2 83.8 L573.0 82.4 L573.7 81.1 L574.4 79.8 L575.2 78.5 L575.9 77.2 L576.6 75.9 L577.4 74.6 L578.1 73.3 L578.8 72.0 L579.5 70.7 L580.2 69.3 L580.9 68.0 L581.6 66.7 L582.2 65.3 L582.9 64.0 L583.5 62.6 L584.2 61.3 L584.9 59.9 L585.6 58.6 L586.3 57.3 L587.0 56.0 L587.8 54.7 L588.6 53.4 L589.3 52.1 L590.1 50.8 L591.0 49.6 L591.9 48.4 L592.9 47.3 L594.0 46.3 L595.2 45.3 L596.4 44.5 L597.7 43.7 L599.1 43.1 L600.5 42.7 L602.0 42.4 L603.5 42.3 L605.0 42.3 L606.5 42.5 L608.0 42.7 L609.4 43.1 L610.8 43.6 L612.2 44.1 L613.6 44.7 L614.9 45.4 L616.2 46.2 L617.5 46.9 L618.8 47.7 L620.1 48.4 L621.4 49.2 L622.8 49.9 L624.1 50.6 L625.4 51.2 L626.8 51.8 L628.2 52.4 L629.6 52.9 L631.0 53.5 L632.4 54.0 L633.8 54.5 L635.2 55.0 L636.7 55.4 L638.1 55.9 L639.5 56.3 L641.0 56.7 L642.4 57.1 L643.9 57.5 L645.3 57.9 L646.8 58.2 L648.2 58.6 L649.7 58.9 L651.2 59.2 L652.6 59.5 L654.1 59.8 L655.6 60.1 L657.1 60.3 L658.6 60.6 L660.0 60.8 L661.5 61.0 L663.0 61.2 L664.5 61.4 L666.0 61.6 L667.5 61.8 L669.0 62.0 L670.5 62.1 L671.9 62.3 L673.4 62.4 L674.9 62.5 L676.4 62.7 L677.9 62.8 L679.4 62.9 L680.9 63.0 L682.4 63.1 L683.9 63.1 L685.4 63.2 L686.9 63.3 L688.4 63.5 L689.9 63.6 L691.4 63.7 L692.9 63.9 L694.4 64.0 L695.9 64.2 L697.4 64.4 L698.8 64.5 L700.3 64.6 L701.8 64.7 L703.3 64.8 L704.8 64.9 L706.3 65.0 L707.8 65.0 L709.3 65.1 L710.8 65.1 L712.3 65.2 L713.8 65.2 L715.3 65.2 L716.8 65.3 L718.3 65.3 L719.8 65.3 L721.3 65.3 L722.8 65.2 L724.3 65.2 L725.8 65.2 L727.3 65.1 L728.8 65.1 L730.3 65.0 L731.8 65.0 L733.3 64.9 L734.8 64.8 L736.3 64.7 L737.8 64.6 L739.3 64.5 L740.8 64.4 L742.3 64.2 L743.8 64.0 L745.3 63.9 L746.8 63.7 L748.3 63.6 L749.7 63.4 L751.2 63.2 L752.7 63.1 L754.2 63.0 L755.7 62.8 L757.2 62.7 L758.7 62.6 L760.2 62.4 L761.7 62.2 L763.2 62.0 L764.7 61.8 L766.1 61.5 L767.6 61.2 L769.1 60.8 L770.5 60.5 L772.0 60.2 L773.4 59.8 L774.4 59.6" fill="none" stroke="#1010d0" stroke-width="2.05" stroke-linejoin="round" stroke-linecap="round"/>
<path d="M774.5 59.7 L774.5 61.2 L774.5 62.7 L774.5 64.2 L774.5 65.7 L774.5 67.2 L774.5 68.7 L774.5 70.2 L774.5 71.7 L774.4 73.2 L774.4 74.7 L774.4 76.2 L774.4 77.7 L774.4 79.2 L774.4 80.7 L774.4 82.2 L774.3 83.7 L774.3 85.2 L774.2 86.7 L774.1 88.2 L773.9 89.7 L773.7 91.1 L773.5 92.6 L773.3 94.1 L773.1 95.6 L772.9 97.1 L772.7 98.6 L772.5 100.1 L772.4 101.5 L772.3 103.0 L772.1 104.5 L772.0 106.0 L771.9 107.5 L771.7 109.0 L771.6 110.5 L771.4 112.0 L771.3 113.5 L771.1 115.0 L770.9 116.5 L770.7 118.0 L770.5 119.4 L770.2 120.9 L770.0 122.4 L769.7 123.9 L769.5 125.4 L769.2 126.8 L768.9 128.3 L768.5 129.8 L768.1 131.2 L767.7 132.6 L767.3 134.1 L766.8 135.5 L766.2 136.9 L765.7 138.3 L765.0 139.6 L764.3 141.0 L763.6 142.3 L762.8 143.5 L761.9 144.8 L761.0 146.0 L760.1 147.1 L759.1 148.2 L758.0 149.3 L756.9 150.4 L755.8 151.3 L754.7 152.3 L753.5 153.2 L752.3 154.1 L751.1 155.0 L749.9 155.9 L748.6 156.7 L747.4 157.6 L746.1 158.4 L744.9 159.2 L743.6 160.0 L742.3 160.7 L740.9 161.4 L739.6 162.1 L738.3 162.8 L736.9 163.4 L735.5 164.0 L734.1 164.5 L732.7 165.1 L731.3 165.6 L729.9 166.0 L728.4 166.5 L727.0 166.8 L725.5 167.2 L724.1 167.5 L722.6 167.9 L721.1 168.2 L719.7 168.5 L718.2 168.8 L716.7 169.0 L715.3 169.3 L713.8 169.6 L712.3 169.8 L710.8 170.1 L709.3 170.3 L707.9 170.6 L706.4 170.8 L704.9 171.1 L703.4 171.3 L701.9 171.6 L700.5 171.8 L699.0 172.1 L697.5 172.3 L696.0 172.5 L694.5 172.8 L693.1 173.0 L691.6 173.2 L690.1 173.5 L688.6 173.7 L687.1 173.9 L685.7 174.2 L684.2 174.4 L682.7 174.6 L681.2 174.9 L679.7 175.1 L678.2 175.3 L676.8 175.5 L675.3 175.8 L673.8 176.0 L672.3 176.2 L670.8 176.4 L669.3 176.6 L667.8 176.8 L666.4 177.0 L664.9 177.3 L663.4 177.4 L661.9 177.6 L660.4 177.8 L658.9 178.0 L657.4 178.1 L655.9 178.3 L654.4 178.5 L653.0 178.6 L651.5 178.8 L650.0 179.0 L648.5 179.1 L647.0 179.3 L645.5 179.5 L644.0 179.8 L642.5 180.0 L641.1 180.3 L639.6 180.6 L638.2 181.0 L636.7 181.5 L635.3 181.9 L633.9 182.5 L632.5 183.0 L631.1 183.5 L629.7 184.0 L628.3 184.5 L626.8 184.9 L625.4 185.4 L624.0 185.8 L622.5 186.3 L621.1 186.8 L619.7 187.4 L618.4 188.0 L617.0 188.7 L615.7 189.4 L614.5 190.3 L613.3 191.1 L612.1 192.1 L611.0 193.1 L609.9 194.1 L608.9 195.2 L607.9 196.3 L606.9 197.5 L605.9 198.6 L605.0 199.8 L604.1 201.0 L603.3 202.2 L602.4 203.4 L601.5 204.7 L600.6 205.8 L599.6 207.0 L598.6 208.1 L597.6 209.2 L596.6 210.3 L595.6 211.5 L594.7 212.6 L593.8 213.8 L592.9 215.1 L592.1 216.3 L591.4 217.6 L590.6 218.9 L589.9 220.2 L589.1 221.5 L588.4 222.9 L587.7 224.2 L587.0 225.5 L586.2 226.8 L585.5 228.1 L584.8 229.4 L584.0 230.7 L583.3 232.0 L582.6 233.4 L581.9 234.7 L581.2 236.0 L580.5 237.3 L579.8 238.7 L579.1 240.0 L578.4 241.3 L577.8 242.7 L577.1 244.0 L576.5 245.4 L575.8 246.7 L575.1 248.1 L574.5 249.4 L573.8 250.7 L573.1 252.1 L572.4 253.4 L571.7 254.7 L571.0 256.1 L570.3 257.4 L569.6 258.7 L568.8 260.0 L568.0 261.3 L567.2 262.5 L566.3 263.7 L565.4 264.9 L564.5 266.1 L563.5 267.3 L562.5 268.3 L561.3 269.3 L560.1 270.1 L558.7 270.8 L557.3 271.3 L555.9 271.6 L554.4 271.8 L552.9 271.9 L551.4 271.8 L549.9 271.6 L548.4 271.3 L547.0 270.8 L545.6 270.4 L544.1 269.9 L542.7 269.4 L541.3 269.0 L539.8 268.6 L538.4 268.1 L537.0 267.7 L535.6 267.2 L534.1 266.7 L532.7 266.3 L531.3 265.8 L529.8 265.4 L528.4 265.0 L526.9 264.7 L525.5 264.4 L524.0 264.1 L522.5 263.9 L521.0 263.7 L519.5 263.6 L518.0 263.4 L516.5 263.3 L515.0 263.2 L513.5 263.1 L512.0 263.0 L510.5 262.8 L509.1 262.7 L507.6 262.5 L506.1 262.3 L504.6 262.2 L503.1 262.0 L501.6 261.9 L500.1 261.8 L498.6 261.7 L497.1 261.7 L495.6 261.7 L494.1 261.7 L492.6 261.7 L491.1 261.8 L489.6 261.8 L488.1 261.9 L486.6 262.0 L485.1 262.1 L483.6 262.2 L482.1 262.3 L480.6 262.4 L479.1 262.6 L477.6 262.7 L476.2 262.9 L474.7 263.1 L473.2 263.2 L471.7 263.4 L470.2 263.7 L468.7 263.9 L467.2 264.2 L465.8 264.4 L464.3 264.7 L462.8 265.0 L461.4 265.3 L459.9 265.6 L458.4 266.0 L457.0 266.3 L455.5 266.7 L454.1 267.1 L452.6 267.4 L451.2 267.8 L449.7 268.2 L448.3 268.6 L446.8 269.0 L445.4 269.5 L444.0 269.9 L442.5 270.3 L441.1 270.8 L439.7 271.2 L438.2 271.7 L436.8 272.2 L435.4 272.7 L434.0 273.2 L432.6 273.7 L431.2 274.2 L429.8 274.8 L428.4 275.3 L427.0 275.8 L426.9 275.9" fill="none" stroke="#1010d0" stroke-width="2.05" stroke-linejoin="round" stroke-linecap="round"/>
<path d="M427.9 165.3 L429.3 164.8 L430.7 164.2 L432.1 163.7 L433.5 163.2 L434.9 162.8 L436.4 162.3 L437.8 161.9 L439.3 161.5 L440.7 161.2 L442.2 160.9 L443.7 160.6 L445.1 160.3 L446.6 160.0 L448.1 159.8 L449.6 159.6 L451.1 159.4 L452.5 159.2 L454.0 159.1 L455.5 159.0 L457.0 158.9 L458.5 158.9 L460.0 158.8 L461.5 158.7 L463.0 158.7 L464.5 158.6 L466.0 158.6 L467.5 158.5 L469.0 158.5 L470.5 158.5 L472.0 158.4 L473.5 158.4 L475.0 158.4 L476.5 158.4 L478.0 158.3 L479.5 158.3 L481.0 158.3 L482.5 158.3 L484.0 158.3 L485.5 158.2 L487.0 158.2 L488.5 158.2 L490.0 158.1 L491.5 158.1 L493.0 158.1 L494.5 158.0 L496.0 158.0 L497.5 158.0 L499.0 157.9 L500.5 157.9 L502.0 157.8 L503.5 157.8 L505.0 157.7 L506.5 157.7 L508.0 157.6 L509.5 157.5 L511.0 157.5 L512.5 157.4 L514.0 157.3 L515.5 157.3 L517.0 157.2 L518.5 157.1 L520.0 157.0 L521.5 156.8 L523.0 156.6 L524.5 156.4 L525.9 156.2 L527.4 155.9 L528.9 155.6 L530.4 155.4 L531.8 155.1 L533.3 154.7 L534.8 154.4 L536.2 154.0 L537.7 153.6 L539.1 153.2 L540.5 152.8 L542.0 152.3 L543.4 151.7 L544.7 151.2 L546.1 150.5 L547.4 149.8 L548.8 149.1 L550.1 148.4 L551.3 147.6 L552.6 146.8 L553.9 146.0 L555.1 145.1 L556.3 144.3 L557.5 143.3 L558.6 142.3 L559.7 141.3 L560.7 140.2 L561.8 139.1 L562.8 138.0 L563.7 136.9 L564.7 135.7 L565.6 134.5 L566.5 133.3 L567.3 132.1 L568.1 130.8 L568.9 129.5 L569.7 128.2 L570.5 126.9 L571.2 125.7 L572.0 124.4 L572.8 123.1 L573.6 121.8 L574.4 120.6 L575.2 119.3 L576.1 118.1 L576.9 116.8 L577.7 115.6 L578.5 114.3 L579.3 113.0 L580.2 111.8 L581.0 110.5 L581.8 109.3 L582.7 108.1 L583.7 106.9 L584.6 105.7 L585.6 104.6 L586.6 103.5 L587.6 102.4 L588.6 101.3 L589.7 100.3 L590.9 99.3 L592.1 98.5 L593.4 97.7 L594.8 97.1 L596.2 96.5 L597.6 96.0 L599.0 95.6 L600.5 95.3 L602.0 95.1 L603.5 95.0 L605.0 94.9 L606.5 94.9 L608.0 95.1 L609.5 95.3 L610.9 95.5 L612.4 95.9 L613.8 96.3 L615.2 96.9 L616.6 97.4 L618.0 98.0 L619.4 98.6 L620.7 99.2 L622.1 99.8 L623.5 100.4 L624.9 100.9 L626.3 101.4 L627.8 101.8 L629.2 102.2 L630.7 102.6 L632.1 103.0 L633.6 103.3 L635.0 103.7 L636.5 104.0 L638.0 104.4 L639.4 104.7 L640.9 105.0 L642.3 105.4 L643.8 105.7 L645.3 106.0 L646.7 106.4 L648.2 106.7 L649.7 107.0 L651.1 107.3 L652.6 107.6 L654.1 107.9 L655.5 108.2 L657.0 108.5 L658.5 108.8 L660.0 109.1 L661.4 109.4 L662.9 109.7 L664.4 109.9 L665.8 110.2 L667.3 110.5 L668.8 110.7 L670.3 111.0 L671.8 111.2 L673.2 111.5 L674.7 111.7 L676.2 111.9 L677.7 112.1 L679.2 112.3 L680.7 112.5 L682.2 112.7 L683.6 112.9 L685.1 113.1 L686.6 113.2 L688.1 113.4 L689.6 113.5 L691.1 113.7 L692.6 113.8 L694.1 114.0 L695.6 114.1 L697.1 114.2 L698.6 114.3 L700.1 114.4 L701.6 114.5 L703.1 114.6 L704.6 114.7 L706.1 114.8 L707.5 114.9 L709.0 115.0 L710.5 115.1 L712.0 115.2 L713.5 115.3 L715.0 115.4 L716.5 115.5 L718.0 115.5 L719.5 115.6 L721.0 115.7 L722.5 115.7 L724.0 115.8 L725.5 115.8 L727.0 115.8 L728.5 115.9 L730.0 115.9 L731.5 115.9 L733.0 115.9 L734.5 116.0 L736.0 116.0 L737.5 116.0 L739.0 116.0 L740.5 116.0 L742.0 116.0 L743.5 116.0 L745.0 116.0 L746.5 115.9 L748.0 115.9 L749.5 115.8 L751.0 115.8 L752.5 115.7 L754.0 115.6 L755.5 115.5 L757.0 115.4 L758.5 115.2 L760.0 115.1 L761.5 115.0 L763.0 114.8 L764.5 114.6 L766.0 114.5 L767.5 114.3 L769.0 114.2 L770.4 114.0 L771.9 113.9 L773.4 113.8 L774.4 113.7" fill="none" stroke="#1010d0" stroke-width="2.05" stroke-linejoin="round" stroke-linecap="round"/>
<path d="M774.5 113.8 L774.4 115.3 L774.3 116.8 L774.3 118.3 L774.2 119.8 L774.1 121.3 L774.0 122.8 L773.9 124.2 L773.7 125.7 L773.5 127.2 L773.3 128.7 L773.1 130.2 L772.8 131.7 L772.5 133.1 L772.1 134.6 L771.6 136.0 L771.1 137.4 L770.5 138.8 L769.8 140.1 L769.1 141.4 L768.3 142.7 L767.4 143.9 L766.5 145.1 L765.4 146.2 L764.3 147.2 L763.2 148.2 L762.0 149.1 L760.7 149.9 L759.4 150.6 L758.1 151.3 L756.7 151.9 L755.3 152.4 L753.9 152.9 L752.5 153.4 L751.0 153.8 L749.6 154.2 L748.1 154.5 L746.7 154.8 L745.2 155.1 L743.7 155.4 L742.2 155.7 L740.8 156.0 L739.3 156.2 L737.8 156.4 L736.3 156.7 L734.8 156.9 L733.3 157.0 L731.8 157.2 L730.4 157.4 L728.9 157.5 L727.4 157.6 L725.9 157.7 L724.4 157.8 L722.9 157.9 L721.4 158.0 L719.9 158.1 L718.4 158.2 L716.9 158.2 L715.4 158.3 L713.9 158.4 L712.4 158.4 L710.9 158.5 L709.4 158.6 L707.9 158.6 L706.4 158.7 L704.9 158.8 L703.4 158.8 L701.9 158.9 L700.4 159.0 L698.9 159.1 L697.4 159.1 L695.9 159.2 L694.4 159.3 L692.9 159.3 L691.4 159.4 L689.9 159.5 L688.4 159.5 L686.9 159.6 L685.4 159.7 L683.9 159.7 L682.4 159.8 L680.9 159.9 L679.4 159.9 L677.9 160.0 L676.4 160.1 L674.9 160.1 L673.4 160.2 L671.9 160.3 L670.4 160.3 L668.9 160.4 L667.4 160.5 L665.9 160.6 L664.4 160.6 L662.9 160.7 L661.4 160.8 L659.9 160.9 L658.5 161.0 L657.0 161.1 L655.5 161.2 L654.0 161.3 L652.5 161.4 L651.0 161.5 L649.5 161.6 L648.0 161.7 L646.5 161.9 L645.0 162.0 L643.5 162.2 L642.0 162.3 L640.5 162.5 L639.0 162.7 L637.5 162.9 L636.1 163.1 L634.6 163.3 L633.1 163.5 L631.6 163.8 L630.1 164.1 L628.7 164.5 L627.2 164.8 L625.8 165.2 L624.3 165.6 L622.9 166.1 L621.5 166.5 L620.1 167.0 L618.7 167.6 L617.3 168.1 L615.9 168.7 L614.5 169.3 L613.1 169.9 L611.8 170.5 L610.4 171.2 L609.1 171.9 L607.8 172.7 L606.5 173.4 L605.3 174.2 L604.0 175.1 L602.8 176.0 L601.7 176.9 L600.5 177.9 L599.4 178.9 L598.3 179.9 L597.2 180.9 L596.2 182.0 L595.1 183.1 L594.2 184.2 L593.2 185.4 L592.3 186.6 L591.4 187.8 L590.6 189.1 L589.7 190.3 L588.9 191.6 L588.1 192.8 L587.2 194.0 L586.4 195.3 L585.6 196.5 L584.8 197.8 L584.0 199.1 L583.2 200.3 L582.3 201.6 L581.5 202.9 L580.7 204.1 L579.9 205.4 L579.0 206.6 L578.2 207.9 L577.4 209.1 L576.5 210.3 L575.7 211.6 L574.8 212.8 L573.9 214.0 L573.0 215.2 L572.1 216.4 L571.1 217.6 L570.2 218.7 L569.2 219.8 L568.2 221.0 L567.2 222.0 L566.1 223.1 L564.9 224.0 L563.6 224.8 L562.3 225.5 L561.0 226.2 L559.5 226.7 L558.1 227.1 L556.6 227.4 L555.1 227.6 L553.7 227.7 L552.2 227.6 L550.7 227.5 L549.2 227.3 L547.7 227.0 L546.2 226.7 L544.8 226.4 L543.3 226.0 L541.9 225.7 L540.4 225.3 L539.0 224.9 L537.5 224.5 L536.1 224.0 L534.7 223.5 L533.2 223.1 L531.8 222.6 L530.4 222.2 L528.9 221.7 L527.5 221.3 L526.0 221.0 L524.6 220.7 L523.1 220.4 L521.6 220.1 L520.1 219.8 L518.7 219.6 L517.2 219.4 L515.7 219.2 L514.2 219.0 L512.7 218.8 L511.2 218.6 L509.7 218.5 L508.2 218.3 L506.7 218.2 L505.3 218.1 L503.8 218.0 L502.3 217.9 L500.8 217.8 L499.3 217.7 L497.8 217.6 L496.3 217.4 L494.8 217.3 L493.3 217.1 L491.8 216.9 L490.3 216.7 L488.8 216.6 L487.3 216.4 L485.8 216.3 L484.3 216.2 L482.8 216.1 L481.4 216.0 L479.9 215.9 L478.4 215.9 L476.9 215.8 L475.4 215.8 L473.9 215.8 L472.4 215.8 L470.9 215.8 L469.4 215.8 L467.9 215.8 L466.4 215.8 L464.9 215.9 L463.4 215.9 L461.9 216.0 L460.4 216.0 L458.9 216.1 L457.4 216.2 L455.9 216.3 L454.4 216.4 L452.9 216.5 L451.4 216.6 L449.9 216.7 L448.4 216.9 L446.9 217.0 L445.4 217.2 L443.9 217.3 L442.4 217.5 L440.9 217.7 L439.4 217.8 L437.9 218.0 L436.5 218.1 L435.0 218.3 L433.5 218.4 L432.0 218.5 L430.5 218.7 L429.0 218.8 L427.5 218.9 L426.9 219.0" fill="none" stroke="#1010d0" stroke-width="2.05" stroke-linejoin="round" stroke-linecap="round"/>
<path d="M427.9 169.1 L429.3 168.8 L430.8 168.4 L432.2 168.1 L433.7 167.8 L435.2 167.5 L436.7 167.2 L438.1 167.0 L439.6 166.8 L441.1 166.6 L442.6 166.4 L444.1 166.2 L445.6 166.1 L447.1 165.9 L448.6 165.8 L450.1 165.6 L451.6 165.5 L453.1 165.4 L454.6 165.2 L456.0 165.1 L457.5 165.0 L459.0 164.9 L460.5 164.8 L462.0 164.7 L463.5 164.6 L465.0 164.5 L466.5 164.5 L468.0 164.4 L469.5 164.3 L471.0 164.3 L472.5 164.2 L474.0 164.2 L475.5 164.1 L477.0 164.1 L478.5 164.0 L480.0 164.0 L481.5 164.0 L483.0 163.9 L484.5 163.9 L486.0 163.9 L487.5 163.8 L489.0 163.8 L490.5 163.8 L492.0 163.7 L493.5 163.7 L495.0 163.7 L496.5 163.7 L498.0 163.6 L499.5 163.6 L501.0 163.6 L502.5 163.6 L504.0 163.6 L505.5 163.6 L507.0 163.6 L508.5 163.6 L510.0 163.6 L511.5 163.6 L513.0 163.6 L514.5 163.5 L516.0 163.5 L517.5 163.5 L519.0 163.4 L520.5 163.4 L522.0 163.3 L523.5 163.2 L525.0 163.1 L526.5 163.0 L528.0 162.8 L529.5 162.7 L531.0 162.5 L532.5 162.4 L534.0 162.2 L535.4 162.0 L536.9 161.8 L538.4 161.5 L539.9 161.3 L541.3 160.9 L542.8 160.4 L544.1 159.8 L545.4 159.1 L546.7 158.3 L548.0 157.5 L549.2 156.6 L550.4 155.8 L551.7 154.9 L552.9 154.1 L554.2 153.3 L555.4 152.4 L556.6 151.5 L557.8 150.6 L559.0 149.7 L560.1 148.7 L561.3 147.7 L562.4 146.7 L563.5 145.7 L564.6 144.7 L565.7 143.6 L566.7 142.6 L567.8 141.6 L568.9 140.5 L570.0 139.5 L571.0 138.4 L572.1 137.3 L573.1 136.2 L574.0 135.1 L574.9 133.9 L575.8 132.7 L576.7 131.4 L577.5 130.2 L578.4 129.0 L579.2 127.7 L580.1 126.5 L581.0 125.3 L581.9 124.1 L583.0 123.1 L584.1 122.0 L585.2 121.1 L586.4 120.2 L587.7 119.3 L589.0 118.6 L590.3 117.9 L591.7 117.3 L593.1 116.7 L594.5 116.2 L595.9 115.8 L597.4 115.4 L598.8 115.1 L600.3 114.9 L601.8 114.8 L603.3 114.7 L604.8 114.7 L606.3 114.7 L607.8 114.9 L609.3 115.0 L610.8 115.2 L612.3 115.5 L613.7 115.9 L615.2 116.3 L616.6 116.8 L618.0 117.3 L619.4 117.8 L620.8 118.3 L622.2 118.8 L623.7 119.2 L625.1 119.7 L626.5 120.1 L628.0 120.5 L629.4 120.9 L630.9 121.2 L632.3 121.6 L633.8 121.9 L635.3 122.3 L636.7 122.6 L638.2 122.9 L639.7 123.3 L641.1 123.6 L642.6 123.9 L644.1 124.2 L645.5 124.5 L647.0 124.8 L648.5 125.1 L649.9 125.4 L651.4 125.7 L652.9 126.0 L654.4 126.2 L655.8 126.5 L657.3 126.8 L658.8 127.0 L660.3 127.3 L661.7 127.5 L663.2 127.8 L664.7 128.0 L666.2 128.3 L667.7 128.5 L669.1 128.8 L670.6 129.0 L672.1 129.2 L673.6 129.4 L675.1 129.7 L676.6 129.9 L678.1 130.1 L679.5 130.3 L681.0 130.4 L682.5 130.6 L684.0 130.8 L685.5 131.0 L687.0 131.2 L688.5 131.4 L690.0 131.5 L691.5 131.7 L692.9 131.9 L694.4 132.0 L695.9 132.2 L697.4 132.4 L698.9 132.5 L700.4 132.6 L701.9 132.8 L703.4 132.9 L704.9 133.0 L706.4 133.1 L707.9 133.2 L709.4 133.4 L710.9 133.5 L712.4 133.6 L713.9 133.6 L715.4 133.7 L716.9 133.8 L718.4 133.9 L719.9 134.0 L721.4 134.0 L722.9 134.1 L724.4 134.2 L725.8 134.2 L727.3 134.3 L728.8 134.3 L730.3 134.4 L731.8 134.4 L733.3 134.4 L734.8 134.5 L736.3 134.5 L737.8 134.5 L739.3 134.5 L740.8 134.5 L742.3 134.5 L743.8 134.5 L745.3 134.5 L746.8 134.5 L748.3 134.5 L749.8 134.4 L751.3 134.4 L752.8 134.3 L754.3 134.2 L755.8 134.1 L757.3 134.1 L758.8 134.0 L760.3 133.8 L761.8 133.7 L763.3 133.6 L764.8 133.5 L766.3 133.4 L767.8 133.2 L769.3 133.1 L770.8 133.0 L772.3 132.9 L773.8 132.8 L774.4 132.7" fill="none" stroke="#1010d0" stroke-width="2.05" stroke-linejoin="round" stroke-linecap="round"/>
<path d="M774.5 132.8 L774.3 134.3 L774.1 135.7 L773.7 137.2 L773.3 138.6 L772.7 140.0 L772.0 141.4 L771.2 142.6 L770.3 143.8 L769.2 144.8 L768.0 145.7 L766.8 146.6 L765.4 147.3 L764.1 147.9 L762.7 148.5 L761.3 149.0 L759.9 149.4 L758.4 149.8 L756.9 150.1 L755.5 150.4 L754.0 150.7 L752.5 150.9 L751.0 151.2 L749.5 151.4 L748.1 151.6 L746.6 151.8 L745.1 152.0 L743.6 152.1 L742.1 152.3 L740.6 152.5 L739.1 152.6 L737.6 152.8 L736.1 153.0 L734.6 153.1 L733.2 153.3 L731.7 153.4 L730.2 153.6 L728.7 153.7 L727.2 153.9 L725.7 154.0 L724.2 154.2 L722.7 154.3 L721.2 154.4 L719.7 154.6 L718.2 154.7 L716.7 154.8 L715.2 154.9 L713.7 155.0 L712.2 155.1 L710.7 155.2 L709.2 155.4 L707.7 155.5 L706.3 155.6 L704.8 155.7 L703.3 155.8 L701.8 155.9 L700.3 156.0 L698.8 156.1 L697.3 156.2 L695.8 156.3 L694.3 156.4 L692.8 156.5 L691.3 156.6 L689.8 156.7 L688.3 156.8 L686.8 156.9 L685.3 157.0 L683.8 157.1 L682.3 157.2 L680.8 157.3 L679.3 157.4 L677.8 157.5 L676.3 157.5 L674.8 157.6 L673.3 157.7 L671.8 157.8 L670.3 157.9 L668.8 158.0 L667.3 158.1 L665.8 158.2 L664.3 158.3 L662.8 158.3 L661.3 158.4 L659.8 158.5 L658.3 158.6 L656.8 158.7 L655.3 158.7 L653.9 158.8 L652.4 158.8 L650.9 158.9 L649.4 158.9 L647.9 159.0 L646.4 159.0 L644.9 159.1 L643.4 159.2 L641.9 159.2 L640.4 159.3 L638.9 159.4 L637.4 159.5 L635.9 159.6 L634.4 159.7 L632.9 159.8 L631.4 160.0 L629.9 160.2 L628.4 160.3 L626.9 160.5 L625.4 160.7 L624.0 160.9 L622.5 161.2 L621.0 161.5 L619.5 161.8 L618.1 162.2 L616.6 162.6 L615.2 163.0 L613.8 163.5 L612.4 164.0 L611.0 164.6 L609.6 165.2 L608.2 165.8 L606.9 166.4 L605.5 167.1 L604.2 167.8 L602.9 168.6 L601.6 169.4 L600.4 170.2 L599.2 171.0 L598.0 171.9 L596.8 172.9 L595.6 173.8 L594.5 174.9 L593.5 175.9 L592.5 177.0 L591.5 178.2 L590.5 179.3 L589.6 180.5 L588.7 181.7 L587.7 182.8 L586.8 184.0 L585.9 185.3 L585.1 186.5 L584.2 187.7 L583.4 188.9 L582.5 190.2 L581.6 191.3 L580.6 192.5 L579.6 193.6 L578.5 194.6 L577.3 195.5 L576.1 196.4 L574.9 197.3 L573.6 198.1 L572.4 199.0 L571.2 199.9 L570.0 200.8 L568.8 201.7 L567.6 202.6 L566.4 203.5 L565.1 204.3 L563.8 204.9 L562.4 205.5 L560.9 205.9 L559.5 206.3 L558.0 206.6 L556.5 206.8 L555.0 206.9 L553.5 207.0 L552.0 207.1 L550.5 207.0 L549.0 206.9 L547.6 206.8 L546.1 206.6 L544.6 206.3 L543.1 206.1 L541.6 205.8 L540.2 205.5 L538.7 205.2 L537.2 204.9 L535.8 204.5 L534.3 204.2 L532.9 203.8 L531.4 203.5 L529.9 203.1 L528.5 202.7 L527.0 202.4 L525.6 202.1 L524.1 201.7 L522.6 201.4 L521.2 201.1 L519.7 200.8 L518.2 200.5 L516.8 200.2 L515.3 200.0 L513.8 199.7 L512.3 199.4 L510.8 199.2 L509.4 198.9 L507.9 198.7 L506.4 198.5 L504.9 198.2 L503.4 198.0 L501.9 197.8 L500.5 197.7 L499.0 197.5 L497.5 197.3 L496.0 197.2 L494.5 197.1 L493.0 196.9 L491.5 196.8 L490.0 196.7 L488.5 196.6 L487.0 196.5 L485.5 196.3 L484.0 196.2 L482.5 196.1 L481.0 196.1 L479.5 196.0 L478.0 195.9 L476.5 195.8 L475.0 195.7 L473.5 195.7 L472.0 195.6 L470.5 195.5 L469.0 195.5 L467.5 195.4 L466.0 195.4 L464.5 195.3 L463.0 195.3 L461.5 195.2 L460.0 195.2 L458.5 195.2 L457.0 195.2 L455.5 195.1 L454.0 195.1 L452.5 195.1 L451.0 195.1 L449.5 195.1 L448.0 195.1 L446.5 195.1 L445.0 195.1 L443.5 195.2 L442.0 195.2 L440.5 195.3 L439.0 195.3 L437.6 195.3 L436.1 195.4 L434.6 195.4 L433.1 195.5 L431.6 195.6 L430.1 195.6 L428.6 195.6 L427.1 195.7 L426.9 195.7" fill="none" stroke="#1010d0" stroke-width="2.05" stroke-linejoin="round" stroke-linecap="round"/>
<path d="M427.9 174.2 L429.3 173.6 L430.7 173.1 L432.0 172.5 L433.5 172.0 L434.9 171.5 L436.3 171.1 L437.8 170.8 L439.3 170.6 L440.8 170.4 L442.3 170.2 L443.7 170.1 L445.2 170.0 L446.7 169.9 L448.2 169.8 L449.7 169.7 L451.2 169.5 L452.7 169.4 L454.2 169.2 L455.7 169.1 L457.2 169.0 L458.7 168.8 L460.2 168.7 L461.7 168.6 L463.2 168.5 L464.7 168.3 L466.2 168.2 L467.7 168.1 L469.2 168.0 L470.6 167.8 L472.1 167.7 L473.6 167.6 L475.1 167.5 L476.6 167.3 L478.1 167.2 L479.6 167.1 L481.1 166.9 L482.6 166.8 L484.1 166.7 L485.6 166.6 L487.1 166.4 L488.6 166.3 L490.1 166.2 L491.6 166.1 L493.1 166.0 L494.6 165.8 L496.1 165.7 L497.6 165.6 L499.1 165.6 L500.6 165.5 L502.1 165.4 L503.6 165.3 L505.1 165.3 L506.5 165.2 L508.0 165.2 L509.5 165.2 L511.0 165.1 L512.5 165.1 L514.0 165.1 L515.5 165.0 L517.0 165.0 L518.5 165.0 L520.0 164.9 L521.5 164.8 L523.0 164.8 L524.5 164.7 L526.0 164.6 L527.5 164.6 L529.0 164.5 L530.5 164.4 L532.0 164.3 L533.5 164.1 L535.0 164.0 L536.5 163.8 L538.0 163.6 L539.5 163.4 L540.9 163.1 L542.4 162.8 L543.9 162.4 L545.3 162.1 L546.8 161.7 L548.2 161.2 L549.6 160.7 L551.0 160.1 L552.3 159.4 L553.6 158.6 L554.9 157.8 L556.1 157.0 L557.4 156.2 L558.6 155.4 L559.9 154.6 L561.1 153.7 L562.4 152.9 L563.6 152.0 L564.8 151.1 L566.0 150.2 L567.1 149.2 L568.2 148.2 L569.4 147.2 L570.5 146.2 L571.6 145.2 L572.7 144.2 L573.8 143.2 L575.0 142.3 L576.2 141.3 L577.4 140.4 L578.6 139.5 L579.7 138.6 L580.9 137.6 L582.0 136.7 L583.2 135.7 L584.3 134.7 L585.5 133.8 L586.7 132.9 L588.0 132.1 L589.2 131.3 L590.6 130.6 L592.0 130.0 L593.4 129.5 L594.8 129.1 L596.3 128.8 L597.8 128.5 L599.2 128.3 L600.7 128.2 L602.2 128.1 L603.7 128.0 L605.2 128.0 L606.7 128.1 L608.2 128.2 L609.7 128.3 L611.2 128.4 L612.7 128.6 L614.2 128.8 L615.7 129.1 L617.1 129.3 L618.6 129.6 L620.1 129.9 L621.5 130.3 L623.0 130.7 L624.4 131.1 L625.8 131.6 L627.3 132.1 L628.7 132.5 L630.1 133.0 L631.5 133.5 L633.0 134.0 L634.4 134.4 L635.8 134.9 L637.3 135.3 L638.7 135.7 L640.1 136.1 L641.6 136.5 L643.1 136.8 L644.5 137.1 L646.0 137.4 L647.5 137.7 L649.0 138.0 L650.4 138.2 L651.9 138.5 L653.4 138.7 L654.9 139.0 L656.4 139.2 L657.8 139.4 L659.3 139.6 L660.8 139.8 L662.3 140.1 L663.8 140.3 L665.3 140.5 L666.7 140.7 L668.2 141.0 L669.7 141.2 L671.2 141.4 L672.7 141.6 L674.2 141.9 L675.6 142.1 L677.1 142.3 L678.6 142.5 L680.1 142.7 L681.6 142.8 L683.1 143.0 L684.6 143.2 L686.1 143.3 L687.6 143.4 L689.1 143.6 L690.5 143.7 L692.0 143.8 L693.5 143.9 L695.0 144.0 L696.5 144.0 L698.0 144.1 L699.5 144.2 L701.0 144.2 L702.5 144.3 L704.0 144.3 L705.5 144.4 L707.0 144.4 L708.5 144.4 L710.0 144.4 L711.5 144.5 L713.0 144.5 L714.5 144.5 L716.0 144.5 L717.5 144.6 L719.0 144.6 L720.5 144.6 L722.0 144.7 L723.5 144.7 L725.0 144.7 L726.5 144.8 L728.0 144.8 L729.5 144.9 L731.0 144.9 L732.5 145.0 L734.0 145.0 L735.5 145.1 L737.0 145.1 L738.5 145.2 L740.0 145.2 L741.5 145.2 L743.0 145.3 L744.5 145.3 L746.0 145.3 L747.5 145.3 L749.0 145.3 L750.5 145.3 L752.0 145.3 L753.5 145.2 L755.0 145.2 L756.5 145.1 L758.0 145.1 L759.5 145.0 L761.0 144.9 L762.5 144.8 L764.0 144.7 L765.5 144.6 L767.0 144.5 L768.5 144.4 L770.0 144.4 L771.5 144.3 L773.0 144.2 L774.5 144.1" fill="none" stroke="#1010d0" stroke-width="2.05" stroke-linejoin="round" stroke-linecap="round"/>
<path d="M774.5 144.2 L773.5 145.3 L772.4 146.4 L771.2 147.2 L769.9 147.9 L768.5 148.5 L767.1 149.0 L765.6 149.4 L764.2 149.8 L762.7 150.2 L761.3 150.5 L759.8 150.8 L758.3 151.1 L756.9 151.4 L755.4 151.7 L753.9 151.9 L752.4 152.2 L751.0 152.4 L749.5 152.6 L748.0 152.8 L746.5 153.0 L745.0 153.2 L743.5 153.4 L742.0 153.6 L740.5 153.7 L739.0 153.9 L737.5 154.0 L736.1 154.1 L734.6 154.3 L733.1 154.4 L731.6 154.5 L730.1 154.7 L728.6 154.8 L727.1 154.9 L725.6 155.0 L724.1 155.2 L722.6 155.3 L721.1 155.4 L719.6 155.5 L718.1 155.6 L716.6 155.8 L715.1 155.9 L713.6 156.0 L712.1 156.1 L710.6 156.2 L709.1 156.3 L707.6 156.4 L706.1 156.5 L704.7 156.6 L703.2 156.7 L701.7 156.8 L700.2 156.9 L698.7 157.0 L697.2 157.1 L695.7 157.2 L694.2 157.3 L692.7 157.3 L691.2 157.4 L689.7 157.5 L688.2 157.6 L686.7 157.7 L685.2 157.8 L683.7 157.9 L682.2 157.9 L680.7 158.0 L679.2 158.1 L677.7 158.2 L676.2 158.3 L674.7 158.3 L673.2 158.4 L671.7 158.5 L670.2 158.6 L668.7 158.6 L667.2 158.7 L665.7 158.8 L664.2 158.8 L662.7 158.9 L661.2 159.0 L659.7 159.0 L658.2 159.1 L656.7 159.1 L655.2 159.2 L653.7 159.2 L652.2 159.2 L650.7 159.3 L649.2 159.3 L647.7 159.3 L646.2 159.3 L644.7 159.4 L643.2 159.4 L641.7 159.4 L640.2 159.5 L638.7 159.5 L637.2 159.5 L635.7 159.6 L634.2 159.6 L632.7 159.7 L631.2 159.8 L629.7 159.9 L628.2 159.9 L626.7 160.0 L625.2 160.1 L623.7 160.2 L622.2 160.4 L620.8 160.5 L619.3 160.7 L617.8 160.9 L616.3 161.2 L614.8 161.5 L613.4 161.8 L611.9 162.1 L610.4 162.5 L609.0 162.8 L607.6 163.3 L606.1 163.7 L604.7 164.2 L603.3 164.8 L602.0 165.4 L600.6 166.0 L599.3 166.7 L597.9 167.5 L596.7 168.2 L595.4 169.0 L594.1 169.9 L592.9 170.8 L591.8 171.7 L590.6 172.7 L589.5 173.7 L588.4 174.7 L587.3 175.7 L586.2 176.7 L585.2 177.8 L584.1 178.9 L583.1 180.0 L582.0 181.0 L581.0 182.1 L579.9 183.1 L578.8 184.1 L577.6 185.1 L576.5 186.1 L575.4 187.1 L574.2 188.0 L573.0 189.0 L571.8 189.8 L570.6 190.7 L569.3 191.4 L567.9 192.1 L566.6 192.7 L565.2 193.2 L563.7 193.7 L562.3 194.0 L560.8 194.4 L559.3 194.6 L557.8 194.8 L556.4 195.0 L554.9 195.1 L553.4 195.1 L551.9 195.1 L550.4 195.1 L548.9 195.0 L547.4 194.8 L545.9 194.6 L544.4 194.4 L542.9 194.1 L541.4 193.9 L540.0 193.6 L538.5 193.3 L537.0 193.0 L535.6 192.6 L534.1 192.3 L532.7 191.9 L531.2 191.5 L529.8 191.1 L528.3 190.7 L526.9 190.4 L525.4 190.0 L523.9 189.7 L522.5 189.4 L521.0 189.1 L519.5 188.8 L518.1 188.5 L516.6 188.2 L515.1 187.9 L513.6 187.7 L512.2 187.4 L510.7 187.1 L509.2 186.9 L507.7 186.6 L506.2 186.4 L504.8 186.2 L503.3 186.0 L501.8 185.8 L500.3 185.6 L498.8 185.5 L497.3 185.4 L495.8 185.3 L494.3 185.2 L492.8 185.1 L491.3 185.0 L489.8 184.9 L488.3 184.9 L486.8 184.8 L485.3 184.7 L483.8 184.7 L482.3 184.6 L480.8 184.6 L479.3 184.5 L477.8 184.4 L476.3 184.4 L474.8 184.3 L473.3 184.2 L471.8 184.2 L470.3 184.1 L468.8 184.0 L467.3 183.9 L465.8 183.8 L464.4 183.7 L462.9 183.6 L461.4 183.5 L459.9 183.5 L458.4 183.4 L456.9 183.3 L455.4 183.2 L453.9 183.2 L452.4 183.1 L450.9 183.0 L449.4 183.0 L447.9 183.0 L446.4 182.9 L444.9 182.9 L443.4 182.9 L441.9 182.9 L440.4 182.9 L438.9 182.9 L437.4 182.9 L435.9 182.9 L434.4 183.0 L432.9 183.0 L431.4 183.0 L429.9 183.0 L428.4 183.0 L426.9 183.0 L426.9 183.0" fill="none" stroke="#1010d0" stroke-width="2.05" stroke-linejoin="round" stroke-linecap="round"/>
<path d="M427.9 176.7 L429.2 176.0 L430.6 175.4 L431.9 174.7 L433.3 174.1 L434.7 173.6 L436.1 173.1 L437.6 172.7 L439.0 172.4 L440.5 172.2 L442.0 172.0 L443.5 171.8 L445.0 171.6 L446.5 171.5 L448.0 171.3 L449.5 171.2 L451.0 171.1 L452.4 171.0 L453.9 170.9 L455.4 170.8 L456.9 170.8 L458.4 170.7 L459.9 170.5 L461.4 170.4 L462.9 170.3 L464.4 170.2 L465.9 170.1 L467.4 170.0 L468.9 169.9 L470.4 169.9 L471.9 169.8 L473.4 169.7 L474.9 169.6 L476.4 169.6 L477.9 169.5 L479.4 169.4 L480.9 169.3 L482.4 169.3 L483.9 169.2 L485.4 169.1 L486.9 169.1 L488.4 169.0 L489.9 168.9 L491.4 168.8 L492.9 168.8 L494.4 168.7 L495.9 168.6 L497.4 168.5 L498.9 168.4 L500.4 168.3 L501.9 168.2 L503.4 168.1 L504.9 167.9 L506.3 167.7 L507.8 167.6 L509.3 167.4 L510.8 167.1 L512.3 166.9 L513.8 166.7 L515.3 166.5 L516.7 166.3 L518.2 166.1 L519.7 165.9 L521.2 165.8 L522.7 165.7 L524.2 165.6 L525.7 165.5 L527.2 165.5 L528.7 165.4 L530.2 165.4 L531.7 165.3 L533.2 165.2 L534.7 165.2 L536.2 165.1 L537.7 165.0 L539.2 164.9 L540.7 164.7 L542.2 164.6 L543.7 164.4 L545.1 164.1 L546.6 163.8 L548.1 163.5 L549.5 163.2 L551.0 162.8 L552.5 162.5 L553.9 162.1 L555.4 161.7 L556.8 161.4 L558.3 161.0 L559.7 160.7 L561.2 160.4 L562.7 160.0 L564.1 159.7 L565.6 159.3 L567.0 159.0 L568.5 158.6 L570.0 158.3 L571.4 158.0 L572.9 157.7 L574.4 157.4 L575.8 157.1 L577.3 156.8 L578.8 156.5 L580.3 156.3 L581.7 156.0 L583.2 155.8 L584.7 155.7 L586.2 155.5 L587.7 155.3 L589.2 155.2 L590.7 155.1 L592.2 154.9 L593.7 154.8 L595.2 154.8 L596.7 154.7 L598.2 154.7 L599.7 154.6 L601.2 154.6 L602.7 154.6 L604.2 154.6 L605.7 154.6 L607.2 154.6 L608.7 154.6 L610.2 154.6 L611.7 154.7 L613.2 154.7 L614.7 154.8 L616.2 154.8 L617.7 154.9 L619.2 155.0 L620.7 155.1 L622.2 155.2 L623.7 155.3 L625.2 155.4 L626.7 155.5 L628.2 155.6 L629.6 155.7 L631.1 155.8 L632.6 155.9 L634.1 156.0 L635.6 156.1 L637.1 156.2 L638.6 156.3 L640.1 156.3 L641.6 156.4 L643.1 156.5 L644.6 156.6 L646.1 156.6 L647.6 156.7 L649.1 156.7 L650.6 156.8 L652.1 156.8 L653.6 156.9 L655.1 156.9 L656.6 157.0 L658.1 157.0 L659.6 157.1 L661.1 157.1 L662.6 157.2 L664.1 157.2 L665.6 157.3 L667.1 157.3 L668.6 157.4 L670.1 157.4 L671.6 157.5 L673.1 157.5 L674.6 157.6 L676.1 157.6 L677.6 157.7 L679.1 157.7 L680.6 157.8 L682.1 157.8 L683.6 157.8 L685.1 157.9 L686.6 157.9 L688.1 158.0 L689.6 158.0 L691.1 158.0 L692.6 158.1 L694.1 158.1 L695.6 158.1 L697.1 158.2 L698.6 158.2 L700.1 158.2 L701.6 158.2 L703.1 158.2 L704.6 158.3 L706.1 158.3 L707.6 158.3 L709.1 158.3 L710.6 158.3 L712.1 158.3 L713.6 158.3 L715.1 158.3 L716.6 158.3 L718.1 158.3 L719.6 158.3 L721.1 158.3 L722.6 158.4 L724.1 158.4 L725.6 158.4 L727.1 158.4 L728.6 158.4 L730.1 158.4 L731.6 158.4 L733.1 158.4 L734.6 158.4 L736.1 158.4 L737.6 158.3 L739.1 158.3 L740.6 158.3 L742.1 158.3 L743.6 158.3 L745.1 158.3 L746.6 158.3 L748.1 158.3 L749.6 158.3 L751.1 158.3 L752.6 158.3 L754.1 158.3 L755.6 158.3 L757.1 158.3 L758.6 158.3 L760.1 158.3 L761.6 158.3 L763.1 158.3 L764.6 158.3 L766.1 158.3 L767.6 158.3 L769.1 158.3 L770.6 158.3 L772.1 158.3 L773.6 158.3 L774.4 158.3" fill="none" stroke="#1010d0" stroke-width="2.05" stroke-linejoin="round" stroke-linecap="round"/>
<path d="M774.4 158.3 L772.9 158.3 L771.4 158.3 L769.9 158.3 L768.4 158.3 L766.9 158.3 L765.4 158.4 L763.9 158.4 L762.4 158.4 L760.9 158.4 L759.4 158.4 L757.9 158.4 L756.4 158.4 L754.9 158.4 L753.4 158.4 L751.9 158.4 L750.4 158.4 L748.9 158.4 L747.4 158.4 L745.9 158.5 L744.4 158.5 L742.9 158.5 L741.4 158.5 L739.9 158.5 L738.4 158.5 L736.9 158.5 L735.4 158.5 L733.9 158.5 L732.4 158.5 L730.9 158.5 L729.4 158.5 L727.9 158.6 L726.4 158.6 L724.9 158.6 L723.4 158.6 L721.9 158.6 L720.4 158.6 L718.9 158.6 L717.4 158.6 L715.9 158.6 L714.4 158.6 L712.9 158.7 L711.4 158.7 L709.9 158.7 L708.4 158.7 L706.9 158.7 L705.4 158.7 L703.9 158.8 L702.4 158.8 L700.9 158.8 L699.4 158.8 L697.9 158.8 L696.4 158.9 L694.9 158.9 L693.4 158.9 L691.9 158.9 L690.4 159.0 L688.9 159.0 L687.4 159.0 L685.9 159.1 L684.4 159.1 L682.9 159.2 L681.4 159.2 L679.9 159.2 L678.4 159.3 L676.9 159.3 L675.4 159.4 L673.9 159.4 L672.4 159.4 L670.9 159.5 L669.4 159.5 L667.9 159.5 L666.4 159.5 L664.9 159.6 L663.4 159.6 L661.9 159.6 L660.4 159.6 L658.9 159.6 L657.4 159.6 L655.9 159.6 L654.4 159.5 L652.9 159.5 L651.4 159.4 L649.9 159.4 L648.4 159.3 L646.9 159.3 L645.4 159.2 L643.9 159.2 L642.5 159.2 L641.0 159.2 L639.5 159.1 L638.0 159.1 L636.5 159.1 L635.0 159.1 L633.5 159.1 L632.0 159.2 L630.5 159.2 L629.0 159.3 L627.5 159.4 L626.0 159.5 L624.5 159.6 L623.0 159.8 L621.5 159.9 L620.0 160.1 L618.5 160.2 L617.0 160.4 L615.5 160.6 L614.0 160.8 L612.6 161.1 L611.1 161.3 L609.6 161.5 L608.1 161.8 L606.6 162.0 L605.1 162.2 L603.7 162.4 L602.2 162.7 L600.7 162.9 L599.2 163.1 L597.7 163.3 L596.2 163.5 L594.8 163.7 L593.3 163.9 L591.8 164.1 L590.3 164.2 L588.8 164.3 L587.3 164.4 L585.8 164.5 L584.3 164.6 L582.8 164.7 L581.3 164.9 L579.8 165.1 L578.3 165.3 L576.9 165.6 L575.4 165.9 L573.9 166.3 L572.5 166.6 L571.0 167.0 L569.6 167.3 L568.1 167.6 L566.6 167.8 L565.1 168.0 L563.6 168.2 L562.1 168.4 L560.6 168.5 L559.2 168.6 L557.7 168.6 L556.2 168.7 L554.7 168.7 L553.2 168.8 L551.7 168.8 L550.2 168.8 L548.7 168.8 L547.2 168.7 L545.7 168.7 L544.2 168.6 L542.7 168.5 L541.2 168.5 L539.7 168.4 L538.2 168.3 L536.7 168.2 L535.2 168.1 L533.7 168.0 L532.2 167.9 L530.7 167.8 L529.2 167.7 L527.7 167.6 L526.2 167.5 L524.7 167.4 L523.2 167.4 L521.7 167.3 L520.2 167.3 L518.7 167.3 L517.2 167.4 L515.7 167.4 L514.2 167.5 L512.7 167.6 L511.2 167.7 L509.7 167.8 L508.2 167.9 L506.7 168.0 L505.2 168.1 L503.7 168.2 L502.2 168.3 L500.7 168.3 L499.2 168.3 L497.7 168.3 L496.2 168.2 L494.7 168.2 L493.2 168.1 L491.7 168.1 L490.2 168.0 L488.7 167.9 L487.2 167.9 L485.7 167.8 L484.2 167.7 L482.7 167.6 L481.2 167.5 L479.7 167.4 L478.2 167.3 L476.8 167.3 L475.3 167.2 L473.8 167.1 L472.3 167.1 L470.8 167.0 L469.3 167.0 L467.8 166.9 L466.3 166.9 L464.8 166.8 L463.3 166.8 L461.8 166.8 L460.3 166.7 L458.8 166.7 L457.3 166.7 L455.8 166.6 L454.3 166.6 L452.8 166.6 L451.3 166.6 L449.8 166.6 L448.3 166.6 L446.8 166.7 L445.3 166.7 L443.8 166.8 L442.3 166.8 L440.8 166.9 L439.3 167.0 L437.8 167.1 L436.3 167.2 L434.8 167.4 L433.3 167.5 L431.8 167.6 L430.3 167.7 L428.8 167.8 L427.3 168.0 L426.8 168.0" fill="none" stroke="#1010d0" stroke-width="2.05" stroke-linejoin="round" stroke-linecap="round"/>
<line x1="426.6" y1="163.3" x2="426.6" y2="183.0" stroke="#1010d0" stroke-width="2.05"/>
<line x1="426.6" y1="187.0" x2="426.6" y2="197.0" stroke="#1010d0" stroke-width="2.05"/>
<line x1="426.6" y1="202.0" x2="426.6" y2="219.0" stroke="#1010d0" stroke-width="2.05"/>
<line x1="426.6" y1="247.0" x2="426.6" y2="276.0" stroke="#1010d0" stroke-width="2.05"/>
<rect x="425.8" y="13.3" width="352.6" height="278.0" fill="none" stroke="#1e1e1e" stroke-width="1.25"/>
<text x="419.6" y="17.6" font-size="13" text-anchor="end" font-weight="normal" >400</text>
<text x="419.6" y="54.6" font-size="13" text-anchor="end" font-weight="normal" >300</text>
<text x="419.6" y="91.7" font-size="13" text-anchor="end" font-weight="normal" >200</text>
<text x="419.6" y="128.8" font-size="13" text-anchor="end" font-weight="normal" >100</text>
<text x="419.6" y="165.9" font-size="13" text-anchor="end" font-weight="normal" >0</text>
<text x="419.6" y="203.0" font-size="13" text-anchor="end" font-weight="normal" >-100</text>
<text x="419.6" y="240.1" font-size="13" text-anchor="end" font-weight="normal" >-200</text>
<text x="419.6" y="277.2" font-size="13" text-anchor="end" font-weight="normal" >-300</text>
<text x="425.8" y="309.3" font-size="13" text-anchor="middle" font-weight="normal" >-0.2</text>
<text x="512.8" y="309.3" font-size="13" text-anchor="middle" font-weight="normal" >0.0</text>
<text x="599.7" y="309.3" font-size="13" text-anchor="middle" font-weight="normal" >0.2</text>
<text x="686.6" y="309.3" font-size="13" text-anchor="middle" font-weight="normal" >0.4</text>
<text x="773.6" y="309.3" font-size="13" text-anchor="middle" font-weight="normal" >0.6</text>
<text x="601.7" y="330.0" font-size="13" text-anchor="middle" font-weight="normal" >E / V</text>
<text transform="translate(390.8 146.5) rotate(-90)" x="0" y="0" font-size="13" text-anchor="middle">i / &#181;A</text>
<text x="448.2" y="48.0" font-size="12.4" text-anchor="start" font-weight="bold" >B<tspan font-weight="normal" dx="0.6">)</tspan></text>
<text x="495.8" y="39.9" font-size="12" letter-spacing="0.15">100 mVs<tspan font-size="7" dy="-6" letter-spacing="0">-1</tspan></text>
<text x="499.0" y="114.9" font-size="12" letter-spacing="0.15">5 mVs<tspan font-size="7" dy="-6" letter-spacing="0">-1</tspan></text>
<line x1="518.7" y1="100.6" x2="518.7" y2="48.4" stroke="#222" stroke-width="1.3"/>
<path d="M518.7 43.4 L516.3 49.9 L521.1 49.9 Z" fill="#111"/>
<line x1="261.2" y1="431.8" x2="564.5" y2="325.2" stroke="#3030b8" stroke-width="1.1"/>
<line x1="261.2" y1="471.4" x2="564.5" y2="577.3" stroke="#3030b8" stroke-width="1.1"/>
<line x1="261.2" y1="447.8" x2="564.5" y2="441.2" stroke="#222" stroke-width="1.1"/>
<line x1="261.2" y1="457.2" x2="564.5" y2="463.4" stroke="#222" stroke-width="1.1"/>
<path d="M261.2 427.2 L257.3 434.2 L265.1 434.2 Z" fill="#0000e6"/>
<path d="M318.3 404.9 L314.4 411.9 L322.2 411.9 Z" fill="#0000e6"/>
<path d="M365.6 387.6 L361.7 394.6 L369.5 394.6 Z" fill="#0000e6"/>
<path d="M432.1 370.2 L428.2 377.2 L436.0 377.2 Z" fill="#0000e6"/>
<path d="M564.5 322.8 L560.6 329.8 L568.4 329.8 Z" fill="#0000e6"/>
<path d="M261.2 467.6 L257.3 474.6 L265.1 474.6 Z" fill="#0000e6"/>
<path d="M318.3 488.2 L314.4 495.2 L322.2 495.2 Z" fill="#0000e6"/>
<path d="M365.6 503.9 L361.7 510.9 L369.5 510.9 Z" fill="#0000e6"/>
<path d="M432.1 524.0 L428.2 531.0 L436.0 531.0 Z" fill="#0000e6"/>
<path d="M564.5 573.5 L560.6 580.5 L568.4 580.5 Z" fill="#0000e6"/>
<rect x="258.4" y="446.4" width="5.5" height="5.5" fill="#000"/>
<rect x="315.6" y="442.6" width="5.5" height="5.5" fill="#000"/>
<rect x="362.9" y="441.8" width="5.5" height="5.5" fill="#000"/>
<rect x="429.4" y="439.9" width="5.5" height="5.5" fill="#000"/>
<rect x="561.8" y="439.1" width="5.5" height="5.5" fill="#000"/>
<rect x="258.4" y="453.2" width="5.5" height="5.5" fill="#000"/>
<rect x="315.6" y="456.9" width="5.5" height="5.5" fill="#000"/>
<rect x="362.9" y="457.9" width="5.5" height="5.5" fill="#000"/>
<rect x="429.4" y="459.4" width="5.5" height="5.5" fill="#000"/>
<rect x="561.8" y="459.9" width="5.5" height="5.5" fill="#000"/>
<rect x="252.7" y="321.2" width="322.3" height="261.8" fill="none" stroke="#1e1e1e" stroke-width="1.25"/>
<text x="246.5" y="325.8" font-size="13" text-anchor="end" font-weight="normal" >200</text>
<text x="246.5" y="391.3" font-size="13" text-anchor="end" font-weight="normal" >100</text>
<text x="246.5" y="456.7" font-size="13" text-anchor="end" font-weight="normal" >0</text>
<text x="246.5" y="522.2" font-size="13" text-anchor="end" font-weight="normal" >-100</text>
<text x="246.5" y="587.6" font-size="13" text-anchor="end" font-weight="normal" >-200</text>
<text x="284.4" y="599.2" font-size="13" text-anchor="middle" font-weight="normal" >0.1</text>
<text x="364.7" y="599.2" font-size="13" text-anchor="middle" font-weight="normal" >0.2</text>
<text x="445.1" y="599.2" font-size="13" text-anchor="middle" font-weight="normal" >0.3</text>
<text x="525.4" y="599.2" font-size="13" text-anchor="middle" font-weight="normal" >0.4</text>
<text transform="translate(212.0 445.8) rotate(-90)" x="0" y="0" font-size="13" text-anchor="middle">i / &#181;A</text>
<text x="271.3" y="345.8" font-size="12.2" text-anchor="start" font-weight="bold" >C<tspan font-weight="normal" dx="0.3">)</tspan></text>
<text x="372.6" y="623.8" font-size="13">v<tspan font-size="8" dy="-6.5">1/2</tspan><tspan dy="6.5"> / (mVs</tspan><tspan font-size="8" dy="-6.5">-1</tspan><tspan dy="6.5">)</tspan><tspan font-size="8" dy="-6.5">1/2</tspan></text>
<text x="400.7" y="352.0" font-size="11.4" text-anchor="start" font-weight="normal" style="fill:#2e2eb0;stroke:#2e2eb0" letter-spacing="0.35">m = 417</text>
<text x="484.8" y="423.0" font-size="11.4" text-anchor="start" font-weight="normal" style="fill:#1a1a1a;stroke:#1a1a1a" letter-spacing="0.35">m = 26.6</text>
<text x="485.0" y="482.0" font-size="11.4" text-anchor="start" font-weight="normal" style="fill:#1a1a1a;stroke:#1a1a1a" letter-spacing="0.35">m = 25.2</text>
<text x="405.8" y="565.0" font-size="11.4" text-anchor="start" font-weight="normal" style="fill:#2e2eb0;stroke:#2e2eb0" letter-spacing="0.35">m = 425</text>
</svg></body></html>
